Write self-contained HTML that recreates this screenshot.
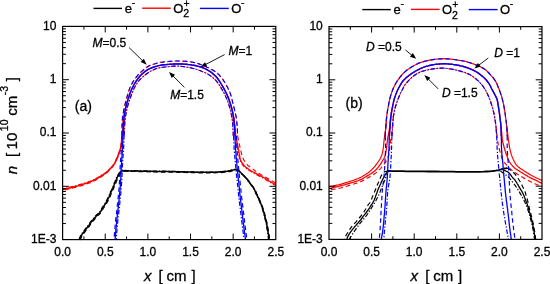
<!DOCTYPE html>
<html><head><meta charset="utf-8"><style>
html,body{margin:0;padding:0;background:#fff;}
svg{display:block;will-change:transform;}
text{font-family:"Liberation Sans",sans-serif;fill:#000;stroke:#000;stroke-width:0.3px;}
.tl{font-size:12px;}
.lg{font-size:13px;}
.sup{font-size:10.5px;}
.sub{font-size:10.5px;}
.sub2{font-size:10.5px;}
.an{font-size:12px;}
.pl{font-size:14px;}
.ax{font-size:15px;}
</style></head><body>
<svg width="550" height="284" viewBox="0 0 550 284">
<rect width="550" height="284" fill="#fff"/>
<path d="M121.9,135.0 121.9,132.5 122.0,129.9 122.0,127.3 122.1,124.8 122.1,122.3 122.3,120.0 122.5,118.2 122.7,116.5 122.9,114.9 123.2,113.2 123.5,111.6 123.8,110.0 124.1,108.3 124.5,106.7 124.9,105.0 125.3,103.4 125.7,101.7 126.2,100.0 126.7,98.1 127.2,96.2 127.8,94.2 128.3,92.3 128.9,90.4 129.6,88.6 130.2,87.1 130.9,85.7 131.5,84.4 132.2,83.1 133.0,81.8 133.8,80.5 134.6,79.3 135.5,78.1 136.4,76.9 137.3,75.8 138.3,74.7 139.4,73.6 140.7,72.3 142.0,71.1 143.4,69.8 144.9,68.6 146.4,67.5 148.0,66.5 149.7,65.6 151.5,64.9 153.3,64.2 155.2,63.7 157.1,63.1 159.0,62.7 160.8,62.3 162.7,62.1 164.6,61.8 166.5,61.7 168.3,61.5 170.0,61.4 171.3,61.3 172.5,61.2 173.7,61.1 174.9,61.1 176.1,61.0 177.3,61.0 178.6,61.0 179.8,61.0 181.1,61.1 182.4,61.1 183.7,61.2 185.0,61.3 186.5,61.4 188.1,61.6 189.8,61.8 191.4,62.0 193.0,62.3 194.5,62.6 195.8,62.9 197.0,63.2 198.2,63.6 199.3,63.9 200.5,64.4 201.7,64.8 203.0,65.3 204.4,65.9 205.7,66.5 207.1,67.2 208.4,67.8 209.7,68.5 211.0,69.2 212.2,69.8 213.5,70.5 214.7,71.3 215.9,72.1 217.0,72.9 218.0,73.8 219.0,74.8 219.9,75.8 220.8,76.8 221.7,77.9 222.5,79.0 223.3,80.1 224.0,81.2 224.8,82.4 225.5,83.6 226.1,84.8 226.8,86.0 227.5,87.3 228.1,88.6 228.8,89.9 229.4,91.3 230.0,92.6 230.5,94.0 230.9,95.3 231.3,96.6 231.6,98.0 232.0,99.3 232.3,100.7 232.6,102.0 232.9,103.3 233.3,104.7 233.6,106.0 234.0,107.3 234.3,108.7 234.6,110.0 234.9,111.3 235.2,112.6 235.5,114.0 235.8,115.3 236.1,116.6 236.3,118.0 236.5,119.5 236.7,121.0 236.8,122.5 237.0,124.0 237.1,125.5 237.2,127.0 237.3,128.5 237.4,130.0 237.4,131.5 237.5,133.0 237.5,134.5 237.6,136.0" fill="none" stroke="#ff0000" stroke-width="1.1" stroke-dasharray="4.5,3" stroke-dashoffset="1.0" stroke-linejoin="round"/>
<path d="M124.3,135.0 124.4,132.5 124.5,129.9 124.6,127.3 124.7,124.8 124.9,122.3 125.1,120.0 125.3,118.2 125.5,116.5 125.8,114.9 126.0,113.2 126.4,111.6 126.7,110.0 127.1,108.3 127.5,106.7 128.0,105.0 128.5,103.4 129.0,101.7 129.6,100.0 130.2,98.1 130.9,96.2 131.6,94.2 132.4,92.2 133.2,90.4 134.0,88.6 134.8,87.1 135.5,85.7 136.4,84.3 137.2,83.0 138.1,81.7 139.1,80.5 140.1,79.4 141.2,78.3 142.3,77.2 143.5,76.2 144.7,75.3 146.0,74.3 147.5,73.2 149.2,72.2 150.9,71.1 152.6,70.2 154.2,69.4 155.8,68.7 156.9,68.3 157.9,68.1 158.9,67.9 159.9,67.7 160.9,67.6 162.0,67.4 163.3,67.2 164.6,67.0 166.0,66.9 167.3,66.7 168.7,66.6 170.0,66.5 171.2,66.4 172.5,66.3 173.7,66.1 174.9,66.1 176.1,66.0 177.3,66.0 178.6,66.1 179.9,66.2 181.2,66.3 182.4,66.5 183.7,66.7 185.0,66.9 186.2,67.1 187.4,67.3 188.6,67.4 189.8,67.7 191.1,67.9 192.3,68.2 193.7,68.6 195.2,69.0 196.7,69.5 198.2,70.1 199.7,70.6 201.0,71.1 202.0,71.5 203.1,71.9 204.0,72.3 205.0,72.7 205.9,73.1 206.8,73.6 207.7,74.1 208.6,74.6 209.4,75.1 210.3,75.7 211.1,76.3 211.9,76.9 212.7,77.5 213.4,78.2 214.2,78.8 214.9,79.5 215.6,80.2 216.3,81.0 217.0,81.9 217.8,82.9 218.5,83.9 219.2,84.9 219.8,85.9 220.5,87.0 221.2,88.1 221.9,89.3 222.6,90.5 223.3,91.7 223.9,92.8 224.5,94.0 225.0,95.0 225.5,96.0 225.9,97.0 226.4,97.9 226.8,98.9 227.2,100.0 227.7,101.3 228.1,102.5 228.6,103.9 229.0,105.2 229.4,106.6 229.8,108.0 230.2,109.5 230.6,110.9 230.9,112.5 231.2,114.0 231.5,115.5 231.8,117.0 232.0,118.5 232.2,120.0 232.4,121.5 232.5,123.0 232.7,124.5 232.8,126.0 232.9,127.6 233.0,129.3 233.1,131.0 233.2,132.6 233.2,134.3 233.3,136.0" fill="none" stroke="#ff0000" stroke-width="1.1" stroke-dasharray="4.5,1.8,1.3,1.8" stroke-dashoffset="1.0" stroke-linejoin="round"/>
<path d="M123.0,135.0 123.1,132.5 123.2,129.9 123.3,127.3 123.4,124.8 123.5,122.3 123.7,120.0 123.9,118.2 124.1,116.5 124.3,114.9 124.6,113.2 124.9,111.6 125.2,110.0 125.6,108.3 125.9,106.7 126.4,105.0 126.8,103.4 127.3,101.7 127.8,100.0 128.4,98.2 129.0,96.3 129.6,94.4 130.3,92.5 131.0,90.7 131.8,89.0 132.5,87.5 133.3,86.0 134.1,84.5 134.9,83.1 135.7,81.8 136.6,80.5 137.4,79.4 138.2,78.3 139.0,77.3 139.8,76.3 140.7,75.3 141.6,74.4 142.6,73.5 143.7,72.6 144.7,71.7 145.9,70.9 147.0,70.1 148.2,69.4 149.4,68.8 150.7,68.2 152.0,67.7 153.3,67.2 154.6,66.8 155.8,66.4 156.9,66.1 157.9,65.8 158.9,65.6 159.9,65.4 160.9,65.2 162.0,65.0 163.3,64.8 164.6,64.7 165.9,64.6 167.3,64.5 168.7,64.4 170.0,64.3 171.3,64.2 172.5,64.1 173.8,64.0 175.0,64.0 176.3,63.9 177.5,63.9 178.7,63.9 180.0,63.9 181.2,64.0 182.5,64.0 183.7,64.1 185.0,64.2 186.4,64.3 187.9,64.5 189.4,64.6 190.8,64.8 192.3,65.1 193.7,65.3 195.0,65.5 196.2,65.8 197.4,66.1 198.6,66.4 199.8,66.7 201.0,67.1 202.1,67.5 203.2,67.9 204.3,68.4 205.4,68.9 206.4,69.4 207.5,70.0 208.6,70.7 209.8,71.4 211.0,72.2 212.1,73.0 213.1,73.9 214.1,74.7 214.8,75.4 215.5,76.1 216.2,76.8 216.8,77.5 217.4,78.2 218.0,79.0 218.6,79.9 219.2,80.7 219.8,81.7 220.4,82.6 220.9,83.5 221.5,84.5 222.1,85.5 222.8,86.6 223.4,87.7 224.0,88.7 224.6,89.9 225.2,91.0 225.8,92.3 226.5,93.6 227.1,94.9 227.7,96.2 228.3,97.6 228.8,99.0 229.3,100.5 229.8,101.9 230.3,103.4 230.8,105.0 231.2,106.5 231.6,108.0 232.0,109.5 232.3,111.0 232.7,112.5 233.0,114.0 233.2,115.5 233.5,117.0 233.7,118.5 234.0,120.0 234.1,121.5 234.3,123.0 234.5,124.5 234.6,126.0 234.7,127.6 234.8,129.3 234.8,131.0 234.9,132.6 234.9,134.3 235.0,136.0" fill="none" stroke="#ff0000" stroke-width="1.4" stroke-linejoin="round"/>
<path d="M123.7,120.0 123.6,121.3 123.5,122.7 123.4,124.0 123.3,125.4 123.2,126.7 123.1,128.0 123.0,129.2 122.8,130.4 122.7,131.6 122.6,132.7 122.4,133.9 122.3,135.0 122.2,136.0 122.1,137.0 121.9,138.0 121.8,139.0 121.7,140.0 121.6,141.0 121.5,142.0 121.4,143.0 121.3,144.1 121.2,145.1 121.1,146.1 120.9,147.0 120.7,147.8 120.5,148.5 120.3,149.2 120.1,149.9 119.8,150.6 119.6,151.2 119.4,151.7 119.2,152.2 119.0,152.7 118.9,153.2 118.7,153.7 118.5,154.2 118.3,154.7 118.2,155.1 118.0,155.6 117.9,156.1 117.7,156.5 117.5,157.0 117.3,157.5 117.1,157.9 116.9,158.4 116.6,158.9 116.4,159.3 116.2,159.8 116.0,160.3 115.8,160.9 115.6,161.4 115.3,161.9 115.1,162.5 114.8,163.0 114.4,163.6 114.0,164.2 113.6,164.7 113.2,165.3 112.7,165.9 112.3,166.4 111.9,166.9 111.5,167.3 111.1,167.8 110.7,168.2 110.3,168.6 109.8,169.1 109.2,169.7 108.6,170.3 108.0,171.0 107.3,171.6 106.7,172.2 106.0,172.8 105.4,173.3 104.8,173.7 104.2,174.0 103.6,174.4 103.0,174.8 102.3,175.2 101.5,175.7 100.7,176.2 99.8,176.8 99.0,177.3 98.1,177.9 97.2,178.4 96.2,178.9 95.2,179.5 94.2,180.0 93.2,180.5 92.2,180.9 91.1,181.4 89.9,181.9 88.7,182.3 87.5,182.8 86.3,183.2 85.0,183.6 83.8,184.0 82.6,184.4 81.4,184.8 80.2,185.1 78.9,185.5 77.7,185.9 76.5,186.2 75.3,186.5 74.1,186.8 72.9,187.1 71.7,187.4 70.5,187.7 69.3,188.0 68.2,188.3 67.1,188.5 65.9,188.8 64.8,189.0 63.7,189.3 62.6,189.5" fill="none" stroke="#ff0000" stroke-width="1.5" stroke-linejoin="round"/>
<path d="M123.4,120.9 123.3,122.2 123.2,123.6 123.1,124.9 123.0,126.3 122.9,127.6 122.8,128.9 122.7,130.1 122.5,131.3 122.4,132.5 122.3,133.6 122.1,134.8 122.0,135.9 121.9,136.9 121.8,137.9 121.6,138.9 121.5,139.9 121.4,140.9 121.3,141.9 121.2,142.9 121.1,143.9 121.0,145.0 120.9,146.0 120.8,147.0 120.6,147.9 120.4,148.7 120.2,149.4 120.0,150.1 119.8,150.8 119.5,151.5 119.3,152.1 119.1,152.6 118.9,153.1 118.7,153.6 118.6,154.1 118.4,154.6 118.2,155.1 118.0,155.6 117.9,156.0 117.7,156.5 117.6,157.0 117.4,157.4 117.2,157.9 117.0,158.4 116.8,158.8 116.6,159.3 116.3,159.8 116.1,160.2 115.9,160.7 115.7,161.2 115.5,161.8 115.3,162.3 115.0,162.8 114.8,163.4 114.5,163.9 114.1,164.5 113.7,165.1 113.3,165.6 112.9,166.2 112.4,166.8 112.0,167.3 111.6,167.8 111.2,168.2 110.8,168.7 110.4,169.1 110.0,169.5 109.5,170.0 108.9,170.6 108.3,171.2 107.7,171.9 107.0,172.5 106.4,173.1 105.7,173.7 105.1,174.2 104.5,174.6 103.9,174.9 103.3,175.3 102.7,175.7 102.0,176.1 101.2,176.6 100.4,177.1 99.5,177.7 98.7,178.2 97.8,178.8 96.9,179.3 95.9,179.8 94.9,180.4 93.9,180.9 92.9,181.4 91.9,181.8 90.8,182.3 89.6,182.8 88.4,183.2 87.2,183.7 86.0,184.1 84.7,184.5 83.5,184.9 82.3,185.3 81.1,185.7 79.9,186.0 78.6,186.4 77.4,186.8 76.2,187.1 75.0,187.4 73.8,187.7 72.6,188.0 71.4,188.3 70.2,188.6 69.0,188.9 67.9,189.2 66.8,189.4 65.6,189.7 64.5,189.9 63.4,190.2 62.3,190.4" fill="none" stroke="#ff0000" stroke-width="1.3" stroke-dasharray="4.5,3" stroke-dashoffset="0" stroke-linejoin="round"/>
<path d="M124.3,119.2 124.2,120.5 124.1,121.9 124.0,123.2 123.9,124.6 123.8,125.9 123.7,127.2 123.6,128.4 123.4,129.6 123.3,130.8 123.2,131.9 123.0,133.1 122.9,134.2 122.8,135.2 122.7,136.2 122.5,137.2 122.4,138.2 122.3,139.2 122.2,140.2 122.1,141.2 122.0,142.2 121.9,143.3 121.8,144.3 121.7,145.3 121.5,146.2 121.3,147.0 121.1,147.7 120.9,148.4 120.7,149.1 120.4,149.8 120.2,150.4 120.0,150.9 119.8,151.4 119.6,151.9 119.5,152.4 119.3,152.9 119.1,153.4 118.9,153.9 118.8,154.3 118.6,154.8 118.5,155.3 118.3,155.7 118.1,156.2 117.9,156.7 117.7,157.1 117.5,157.6 117.2,158.1 117.0,158.5 116.8,159.0 116.6,159.5 116.4,160.1 116.2,160.6 115.9,161.1 115.7,161.7 115.4,162.2 115.0,162.8 114.6,163.4 114.2,163.9 113.8,164.5 113.3,165.1 112.9,165.6 112.5,166.1 112.1,166.5 111.7,167.0 111.3,167.4 110.9,167.8 110.4,168.3 109.8,168.9 109.2,169.5 108.6,170.2 107.9,170.8 107.3,171.4 106.6,172.0 106.0,172.5 105.4,172.9 104.8,173.2 104.2,173.6 103.6,174.0 102.9,174.4 102.1,174.9 101.3,175.4 100.4,176.0 99.6,176.5 98.7,177.1 97.8,177.6 96.8,178.1 95.8,178.7 94.8,179.2 93.8,179.7 92.8,180.1 91.7,180.6 90.5,181.1 89.3,181.5 88.1,182.0 86.9,182.4 85.6,182.8 84.4,183.2 83.2,183.6 82.0,184.0 80.8,184.3 79.5,184.7 78.3,185.1 77.1,185.4 75.9,185.7 74.7,186.0 73.5,186.3 72.3,186.6 71.1,186.9 69.9,187.2 68.8,187.5 67.7,187.7 66.5,188.0 65.4,188.2 64.3,188.5 63.2,188.7" fill="none" stroke="#ff0000" stroke-width="1.3" stroke-dasharray="4.5,1.8,1.3,1.8" stroke-dashoffset="0" stroke-linejoin="round"/>
<path d="M233.5,117.0 233.7,118.5 233.9,120.0 234.1,121.5 234.2,123.0 234.4,124.5 234.6,126.0 234.8,127.4 234.9,128.7 235.1,130.1 235.2,131.4 235.4,132.7 235.6,134.0 235.8,135.2 236.0,136.4 236.2,137.6 236.4,138.7 236.6,139.9 236.8,141.0 237.0,142.0 237.2,143.1 237.4,144.1 237.6,145.1 237.8,146.0 238.0,147.0 238.2,147.9 238.3,148.7 238.5,149.6 238.7,150.4 238.8,151.2 239.0,152.0 239.1,152.7 239.2,153.4 239.4,154.0 239.5,154.7 239.6,155.3 239.7,156.0 239.8,156.6 239.9,157.3 240.0,157.9 240.1,158.6 240.2,159.2 240.4,159.8 240.6,160.4 240.9,160.9 241.2,161.4 241.5,161.9 241.8,162.5 242.2,163.0 242.7,163.6 243.1,164.3 243.7,164.9 244.2,165.6 244.8,166.2 245.4,166.8 246.1,167.4 246.8,167.9 247.5,168.5 248.3,169.0 249.0,169.5 249.8,170.0 250.6,170.5 251.5,171.0 252.3,171.5 253.2,172.0 254.1,172.4 254.9,172.9 255.7,173.3 256.5,173.7 257.2,174.2 258.0,174.6 258.8,175.0 259.6,175.4 260.5,175.9 261.4,176.3 262.3,176.8 263.3,177.3 264.2,177.8 265.1,178.3 265.9,178.8 266.8,179.3 267.6,179.9 268.4,180.4 269.2,181.0 270.1,181.5 271.0,182.0 272.0,182.6 272.9,183.1 273.9,183.6 274.8,184.2 275.8,184.7" fill="none" stroke="#ff0000" stroke-width="1.3" stroke-linejoin="round"/>
<path d="M237.6,136.0 237.8,136.8 237.9,137.7 238.1,138.5 238.3,139.3 238.4,140.1 238.6,141.0 238.8,142.0 239.0,143.0 239.2,144.0 239.5,145.0 239.7,146.0 239.9,147.0 240.1,147.9 240.3,148.7 240.5,149.6 240.7,150.4 240.9,151.2 241.1,152.0 241.3,152.7 241.5,153.4 241.6,154.1 241.8,154.7 242.0,155.4 242.2,156.0 242.4,156.6 242.6,157.1 242.8,157.6 243.0,158.1 243.2,158.6 243.5,159.2 243.9,160.0 244.4,160.9 245.0,161.8 245.5,162.6 246.1,163.5 246.7,164.2 247.2,164.7 247.7,165.2 248.2,165.6 248.7,166.0 249.2,166.4 249.8,166.8 250.6,167.4 251.5,168.1 252.4,168.7 253.3,169.4 254.1,170.0 254.9,170.6 255.4,171.0 255.8,171.3 256.2,171.6 256.5,171.9 256.9,172.2 257.4,172.5 258.1,172.9 258.8,173.4 259.6,173.8 260.4,174.3 261.2,174.7 262.0,175.2 262.9,175.7 263.9,176.3 264.9,176.9 265.9,177.4 266.9,178.0 268.0,178.6 269.2,179.3 270.5,180.0 271.8,180.8 273.2,181.5 274.5,182.3 275.8,183.0" fill="none" stroke="#ff0000" stroke-width="1.2" stroke-dasharray="4.5,3" stroke-dashoffset="0" stroke-linejoin="round"/>
<path d="M233.0,117.6 233.2,119.1 233.4,120.6 233.6,122.1 233.7,123.6 233.9,125.1 234.1,126.6 234.3,128.0 234.4,129.3 234.6,130.7 234.7,132.0 234.9,133.3 235.1,134.6 235.3,135.8 235.5,137.0 235.7,138.2 235.9,139.3 236.1,140.5 236.3,141.6 236.5,142.6 236.7,143.7 236.9,144.7 237.1,145.7 237.3,146.6 237.5,147.6 237.7,148.5 237.8,149.3 238.0,150.2 238.2,151.0 238.3,151.8 238.5,152.6 238.6,153.3 238.7,154.0 238.9,154.6 239.0,155.3 239.1,155.9 239.2,156.6 239.3,157.2 239.4,157.9 239.5,158.5 239.6,159.2 239.7,159.8 239.9,160.4 240.1,161.0 240.4,161.5 240.7,162.0 241.0,162.5 241.3,163.1 241.7,163.6 242.2,164.2 242.6,164.9 243.2,165.5 243.7,166.2 244.3,166.8 244.9,167.4 245.6,168.0 246.3,168.5 247.0,169.1 247.8,169.6 248.5,170.1 249.3,170.6 250.1,171.1 251.0,171.6 251.8,172.1 252.7,172.6 253.6,173.0 254.4,173.5 255.2,173.9 256.0,174.3 256.7,174.8 257.5,175.2 258.3,175.6 259.1,176.0 260.0,176.5 260.9,176.9 261.8,177.4 262.8,177.9 263.7,178.4 264.6,178.9 265.4,179.4 266.3,179.9 267.1,180.5 267.9,181.0 268.7,181.6 269.6,182.1 270.5,182.6 271.5,183.2 272.4,183.7 273.4,184.2 274.3,184.8 275.3,185.3" fill="none" stroke="#ff0000" stroke-width="1.2" stroke-dasharray="4.5,1.8,1.3,1.8" stroke-dashoffset="0" stroke-linejoin="round"/>
<path d="M79.6,239.6 79.6,239.5 79.7,239.3 79.7,239.2 79.8,239.1 79.8,239.0 79.9,238.8 80.0,238.5 80.2,238.1 80.3,237.6 80.5,237.2 80.7,236.7 80.9,236.3 81.1,235.9 81.4,235.5 81.6,235.1 81.9,234.7 82.1,234.3 82.4,233.9 82.7,233.5 83.0,233.1 83.3,232.7 83.7,232.2 84.0,231.8 84.3,231.4 84.6,230.9 85.0,230.4 85.3,229.9 85.6,229.5 86.0,229.0 86.3,228.5 86.7,228.1 87.0,227.7 87.4,227.2 87.8,226.8 88.2,226.4 88.5,226.0 88.8,225.6 89.1,225.1 89.3,224.7 89.6,224.2 89.9,223.8 90.2,223.3 90.7,222.7 91.2,222.0 91.8,221.3 92.3,220.6 92.9,220.0 93.5,219.3 94.1,218.6 94.6,218.0 95.2,217.3 95.8,216.7 96.3,216.0 96.9,215.4 97.5,214.8 98.1,214.3 98.7,213.7 99.2,213.2 99.8,212.6 100.3,212.0 100.8,211.3 101.2,210.6 101.6,209.9 101.9,209.2 102.3,208.5 102.7,207.8 103.0,207.3 103.4,206.8 103.7,206.3 104.0,205.9 104.4,205.4 104.7,204.9 105.0,204.4 105.4,203.8 105.7,203.3 106.0,202.8 106.3,202.2 106.6,201.7 106.9,201.2 107.2,200.7 107.4,200.1 107.7,199.6 107.9,199.1 108.2,198.6 108.4,198.2 108.7,197.7 108.9,197.3 109.1,196.9 109.3,196.5 109.5,196.0 109.7,195.5 109.9,194.9 110.1,194.4 110.3,193.8 110.5,193.3 110.7,192.8 110.9,192.4 111.1,191.9 111.3,191.5 111.5,191.1 111.7,190.7 111.9,190.3 112.1,189.8 112.3,189.3 112.5,188.9 112.7,188.4 112.9,187.9 113.1,187.4 113.3,187.0 113.5,186.5 113.6,186.1 113.8,185.7 114.0,185.3 114.2,184.8 114.4,184.3 114.6,183.7 114.9,183.2 115.1,182.6 115.4,182.0 115.6,181.4 115.9,180.7 116.2,179.9 116.5,179.2 116.8,178.4 117.1,177.7 117.4,177.0 117.7,176.4 118.0,175.9 118.3,175.3 118.6,174.8 119.0,174.3 119.3,173.8 119.6,173.3 120.0,172.9 120.3,172.5 120.7,172.0 121.0,171.7 121.4,171.4 121.7,171.2 121.9,171.1 122.2,171.0 122.5,170.9 122.8,170.9 123.2,170.8 124.0,170.7 125.0,170.7 126.1,170.7 127.3,170.8 128.6,170.9 130.0,170.9 132.7,170.9 135.7,171.0 139.1,171.1 142.6,171.2 146.3,171.2 150.0,171.3 154.7,171.4 159.7,171.5 164.9,171.5 170.1,171.6 175.2,171.7 180.0,171.8 183.9,171.9 187.6,172.0 191.3,172.1 194.9,172.2 198.4,172.3 201.8,172.3 204.7,172.3 207.6,172.3 210.4,172.3 213.1,172.3 215.7,172.2 218.2,172.1 220.2,172.0 222.2,171.8 224.1,171.6 225.9,171.4 227.6,171.2 229.1,171.0 230.0,170.8 230.8,170.7 231.5,170.5 232.2,170.3 232.9,170.1 233.5,170.0 234.0,169.9 234.4,169.8 234.8,169.7 235.2,169.6 235.6,169.6 236.0,169.6 236.4,169.6 236.7,169.7 237.0,169.8 237.4,169.9 237.7,170.0 238.1,170.2 238.7,170.7 239.4,171.3 240.1,172.0 240.9,172.8 241.6,173.6 242.3,174.3 243.0,175.0 243.8,175.7 244.5,176.4 245.2,177.1 245.9,177.9 246.6,178.6 247.2,179.3 247.7,180.0 248.2,180.7 248.7,181.4 249.2,182.1 249.7,182.8 250.2,183.5 250.8,184.2 251.3,184.9 251.9,185.6 252.4,186.3 252.9,187.0 253.3,187.7 253.7,188.3 254.1,189.0 254.5,189.7 254.9,190.3 255.2,191.0 255.5,191.6 255.7,192.1 255.9,192.6 256.1,193.2 256.3,193.7 256.6,194.3 257.0,195.1 257.3,195.9 257.8,196.7 258.2,197.5 258.6,198.4 259.0,199.3 259.4,200.3 259.9,201.3 260.3,202.4 260.8,203.5 261.2,204.5 261.6,205.6 262.0,206.7 262.4,207.7 262.7,208.8 263.1,209.9 263.4,210.9 263.7,212.0 264.0,213.1 264.3,214.1 264.5,215.2 264.8,216.3 265.1,217.3 265.3,218.3 265.5,219.1 265.7,219.9 265.9,220.7 266.1,221.4 266.3,222.2 266.5,223.0 266.7,224.0 266.9,224.9 267.0,226.0 267.2,227.0 267.3,228.0 267.5,229.0 267.7,230.0 267.9,231.0 268.0,232.0 268.2,233.1 268.4,234.0 268.5,235.0 268.6,235.8 268.7,236.6 268.7,237.3 268.8,238.1 268.8,238.8 268.9,239.6" fill="none" stroke="#000" stroke-width="1.5" stroke-linejoin="round"/>
<path d="M80.2,240.1 80.2,240.0 80.3,239.8 80.3,239.7 80.4,239.6 80.4,239.5 80.5,239.3 80.6,239.0 80.8,238.6 80.9,238.1 81.1,237.7 81.3,237.2 81.5,236.8 81.7,236.4 82.0,236.0 82.2,235.6 82.5,235.2 82.7,234.8 83.0,234.4 83.3,234.0 83.6,233.6 83.9,233.2 84.3,232.7 84.6,232.3 84.9,231.9 85.2,231.4 85.6,230.9 85.9,230.4 86.2,230.0 86.6,229.5 86.9,229.0 87.3,228.6 87.6,228.2 88.0,227.7 88.4,227.3 88.8,226.9 89.1,226.5 89.4,226.1 89.7,225.6 89.9,225.2 90.2,224.7 90.5,224.3 90.8,223.8 91.3,223.2 91.8,222.5 92.4,221.8 92.9,221.1 93.5,220.5 94.1,219.8 94.7,219.1 95.2,218.5 95.8,217.8 96.4,217.2 96.9,216.5 97.5,215.9 98.1,215.3 98.7,214.8 99.3,214.2 99.8,213.7 100.4,213.1 100.9,212.5 101.4,211.8 101.8,211.1 102.2,210.4 102.5,209.7 102.9,209.0 103.3,208.3 103.6,207.8 104.0,207.3 104.3,206.8 104.6,206.4 105.0,205.9 105.3,205.4 105.6,204.9 106.0,204.3 106.3,203.8 106.6,203.3 106.9,202.7 107.2,202.2 107.5,201.7 107.8,201.2 108.0,200.6 108.3,200.1 108.5,199.6 108.8,199.1 109.0,198.7 109.3,198.2 109.5,197.8 109.7,197.4 109.9,197.0 110.1,196.5 110.3,196.0 110.5,195.4 110.7,194.9 110.9,194.3 111.1,193.8 111.3,193.3 111.5,192.9 111.7,192.4 111.9,192.0 112.1,191.6 112.3,191.2 112.5,190.8 112.7,190.3 112.9,189.8 113.1,189.4 113.3,188.9 113.5,188.4 113.7,187.9 113.9,187.5 114.1,187.0 114.2,186.6 114.4,186.2 114.6,185.8 114.8,185.3 115.0,184.8 115.2,184.2 115.5,183.7 115.7,183.1 116.0,182.5 116.2,181.9 116.5,181.2 116.8,180.4 117.1,179.7 117.4,178.9 117.7,178.2 118.0,177.5 118.3,176.9 118.6,176.4 118.9,175.8 119.2,175.3 119.6,174.8 119.9,174.3 120.2,173.8 120.6,173.4 120.9,173.0 121.3,172.5 121.6,172.2 122.0,171.9 122.3,171.7 122.5,171.6 122.8,171.5 123.1,171.4 123.4,171.4 123.8,171.3 124.6,171.2 125.6,171.2 126.7,171.2 127.9,171.3 129.2,171.4 130.6,171.4 133.3,171.4 136.3,171.5 139.7,171.6 143.2,171.7 146.9,171.7 150.6,171.8 155.3,171.9 160.3,172.0 165.5,172.0 170.7,172.1 175.8,172.2 180.6,172.3 184.5,172.4 188.2,172.5 191.9,172.6 195.5,172.7 199.0,172.8 202.4,172.8 205.3,172.8 208.2,172.8 211.0,172.8 213.7,172.8 216.3,172.7 218.8,172.6 220.8,172.5 222.8,172.3 224.7,172.1 226.5,171.9 228.2,171.7 229.7,171.5 230.6,171.3 231.4,171.2 232.1,171.0 232.8,170.8 233.5,170.6 234.1,170.5 234.6,170.4 235.0,170.3 235.4,170.2 235.8,170.1 236.2,170.1 236.6,170.1 237.0,170.1 237.3,170.2 237.6,170.3 238.0,170.4 238.3,170.5 238.7,170.7 239.3,171.2 240.0,171.8 240.7,172.5 241.5,173.3 242.2,174.1 242.9,174.8 243.6,175.5 244.4,176.2 245.1,176.9 245.8,177.6 246.5,178.4 247.2,179.1 247.8,179.8 248.3,180.5 248.8,181.2 249.3,181.9 249.8,182.6 250.3,183.3 250.8,184.0 251.4,184.7 251.9,185.4 252.5,186.1 253.0,186.8 253.5,187.5 253.9,188.2 254.3,188.8 254.7,189.5 255.1,190.2 255.5,190.8 255.8,191.5 256.1,192.1 256.3,192.6 256.5,193.1 256.7,193.7 256.9,194.2 257.2,194.8 257.6,195.6 257.9,196.4 258.4,197.2 258.8,198.0 259.2,198.9 259.6,199.8 260.0,200.8 260.5,201.8 260.9,202.9 261.4,204.0 261.8,205.0 262.2,206.1 262.6,207.2 263.0,208.2 263.3,209.3 263.7,210.4 264.0,211.4 264.3,212.5 264.6,213.6 264.9,214.6 265.1,215.7 265.4,216.8 265.7,217.8 265.9,218.8 266.1,219.6 266.3,220.4 266.5,221.2 266.7,221.9 266.9,222.7 267.1,223.5 267.3,224.5 267.5,225.4 267.6,226.5 267.8,227.5 267.9,228.5 268.1,229.5 268.3,230.5 268.5,231.5 268.6,232.5 268.8,233.6 269.0,234.5 269.1,235.5 269.2,236.3 269.3,237.1 269.3,237.8 269.4,238.6 269.4,239.3 269.5,240.1" fill="none" stroke="#000" stroke-width="1.3" stroke-dasharray="4.5,3" stroke-dashoffset="0" stroke-linejoin="round"/>
<path d="M79.1,239.3 79.1,239.2 79.2,239.0 79.2,238.9 79.3,238.8 79.3,238.7 79.4,238.5 79.5,238.2 79.7,237.8 79.8,237.3 80.0,236.9 80.2,236.4 80.4,236.0 80.6,235.6 80.9,235.2 81.1,234.8 81.4,234.4 81.6,234.0 81.9,233.6 82.2,233.2 82.5,232.8 82.8,232.4 83.2,231.9 83.5,231.5 83.8,231.1 84.1,230.6 84.5,230.1 84.8,229.6 85.1,229.2 85.5,228.7 85.8,228.2 86.2,227.8 86.5,227.4 86.9,226.9 87.3,226.5 87.7,226.1 88.0,225.7 88.3,225.3 88.6,224.8 88.8,224.4 89.1,223.9 89.4,223.5 89.7,223.0 90.2,222.4 90.7,221.7 91.3,221.0 91.8,220.3 92.4,219.7 93.0,219.0 93.6,218.3 94.1,217.7 94.7,217.0 95.3,216.4 95.8,215.7 96.4,215.1 97.0,214.5 97.6,214.0 98.2,213.4 98.7,212.9 99.3,212.3 99.8,211.7 100.3,211.0 100.7,210.3 101.1,209.6 101.4,208.9 101.8,208.2 102.2,207.5 102.5,207.0 102.9,206.5 103.2,206.0 103.5,205.6 103.9,205.1 104.2,204.6 104.5,204.1 104.9,203.5 105.2,203.0 105.5,202.5 105.8,201.9 106.1,201.4 106.4,200.9 106.7,200.4 106.9,199.8 107.2,199.3 107.4,198.8 107.7,198.3 107.9,197.9 108.2,197.4 108.4,197.0 108.6,196.6 108.8,196.2 109.0,195.7 109.2,195.2 109.4,194.6 109.6,194.1 109.8,193.5 110.0,193.0 110.2,192.5 110.4,192.1 110.6,191.6 110.8,191.2 111.0,190.8 111.2,190.4 111.4,190.0 111.6,189.5 111.8,189.0 112.0,188.6 112.2,188.1 112.4,187.6 112.6,187.1 112.8,186.7 113.0,186.2 113.1,185.8 113.3,185.4 113.5,185.0 113.7,184.5 113.9,184.0 114.1,183.4 114.4,182.9 114.6,182.3 114.9,181.7 115.1,181.1 115.4,180.4 115.7,179.6 116.0,178.9 116.3,178.1 116.6,177.4 116.9,176.7 117.2,176.1 117.5,175.6 117.8,175.0 118.1,174.5 118.5,174.0 118.8,173.5 119.1,173.0 119.5,172.6 119.8,172.2 120.2,171.7 120.5,171.4 120.9,171.1 121.2,170.9 121.4,170.8 121.7,170.7 122.0,170.6 122.3,170.6 122.7,170.5 123.5,170.4 124.5,170.4 125.6,170.4 126.8,170.5 128.1,170.6 129.5,170.6 132.2,170.6 135.2,170.7 138.6,170.8 142.1,170.9 145.8,170.9 149.5,171.0 154.2,171.1 159.2,171.2 164.4,171.2 169.6,171.3 174.7,171.4 179.5,171.5 183.4,171.6 187.1,171.7 190.8,171.8 194.4,171.9 197.9,172.0 201.3,172.0 204.2,172.0 207.1,172.0 209.9,172.0 212.6,172.0 215.2,171.9 217.7,171.8 219.7,171.7 221.7,171.5 223.6,171.3 225.4,171.1 227.1,170.9 228.6,170.7 229.5,170.5 230.3,170.4 231.0,170.2 231.7,170.0 232.4,169.8 233.0,169.7 233.5,169.6 233.9,169.5 234.3,169.4 234.7,169.3 235.1,169.3 235.5,169.3 235.9,169.3 236.2,169.4 236.5,169.5 236.9,169.6 237.2,169.7 237.6,169.9 238.2,170.4 238.9,171.0 239.6,171.7 240.4,172.5 241.1,173.3 241.8,174.0 242.5,174.7 243.3,175.4 244.0,176.1 244.7,176.8 245.4,177.6 246.1,178.3 246.7,179.0 247.2,179.7 247.7,180.4 248.2,181.1 248.7,181.8 249.2,182.5 249.7,183.2 250.3,183.9 250.8,184.6 251.4,185.3 251.9,186.0 252.4,186.7 252.8,187.4 253.2,188.0 253.6,188.7 254.0,189.4 254.4,190.0 254.7,190.7 255.0,191.3 255.2,191.8 255.4,192.3 255.6,192.9 255.8,193.4 256.1,194.0 256.5,194.8 256.8,195.6 257.3,196.4 257.7,197.2 258.1,198.1 258.5,199.0 258.9,200.0 259.4,201.0 259.8,202.1 260.3,203.2 260.7,204.2 261.1,205.3 261.5,206.4 261.9,207.4 262.2,208.5 262.6,209.6 262.9,210.6 263.2,211.7 263.5,212.8 263.8,213.8 264.0,214.9 264.3,216.0 264.6,217.0 264.8,218.0 265.0,218.8 265.2,219.6 265.4,220.4 265.6,221.1 265.8,221.9 266.0,222.7 266.2,223.7 266.4,224.6 266.5,225.7 266.7,226.7 266.8,227.7 267.0,228.7 267.2,229.7 267.4,230.7 267.5,231.7 267.7,232.8 267.9,233.7 268.0,234.7 268.1,235.5 268.2,236.3 268.2,237.0 268.3,237.8 268.3,238.5 268.4,239.3" fill="none" stroke="#000" stroke-width="1.2" stroke-dasharray="4.5,1.8,1.3,1.8" stroke-dashoffset="0" stroke-linejoin="round"/>
<path d="M121.9,135.0 121.9,132.5 122.0,129.9 122.0,127.3 122.1,124.8 122.1,122.3 122.3,120.0 122.5,118.2 122.7,116.5 122.9,114.9 123.2,113.2 123.5,111.6 123.8,110.0 124.1,108.3 124.5,106.7 124.9,105.0 125.3,103.4 125.7,101.7 126.2,100.0 126.7,98.1 127.2,96.2 127.8,94.2 128.3,92.3 128.9,90.4 129.6,88.6 130.2,87.1 130.9,85.7 131.5,84.4 132.2,83.1 133.0,81.8 133.8,80.5 134.6,79.3 135.5,78.1 136.4,76.9 137.3,75.8 138.3,74.7 139.4,73.6 140.7,72.3 142.0,71.1 143.4,69.8 144.9,68.6 146.4,67.5 148.0,66.5 149.7,65.6 151.5,64.9 153.3,64.2 155.2,63.7 157.1,63.1 159.0,62.7 160.8,62.3 162.7,62.1 164.6,61.8 166.5,61.7 168.3,61.5 170.0,61.4 171.3,61.3 172.5,61.2 173.7,61.1 174.9,61.1 176.1,61.0 177.3,61.0 178.6,61.0 179.8,61.0 181.1,61.1 182.4,61.1 183.7,61.2 185.0,61.3 186.5,61.4 188.1,61.6 189.8,61.8 191.4,62.0 193.0,62.3 194.5,62.6 195.8,62.9 197.0,63.2 198.2,63.6 199.3,63.9 200.5,64.4 201.7,64.8 203.0,65.3 204.4,65.9 205.7,66.5 207.1,67.2 208.4,67.8 209.7,68.5 211.0,69.2 212.2,69.8 213.5,70.5 214.7,71.3 215.9,72.1 217.0,72.9 218.0,73.8 219.0,74.8 219.9,75.8 220.8,76.8 221.7,77.9 222.5,79.0 223.3,80.1 224.0,81.2 224.8,82.4 225.5,83.6 226.1,84.8 226.8,86.0 227.5,87.3 228.1,88.6 228.8,89.9 229.4,91.3 230.0,92.6 230.5,94.0 230.9,95.3 231.3,96.6 231.6,98.0 232.0,99.3 232.3,100.7 232.6,102.0 232.9,103.3 233.3,104.7 233.6,106.0 234.0,107.3 234.3,108.7 234.6,110.0 234.9,111.3 235.2,112.6 235.5,114.0 235.8,115.3 236.1,116.6 236.3,118.0 236.5,119.5 236.7,121.0 236.8,122.5 237.0,124.0 237.1,125.5 237.2,127.0 237.3,128.5 237.4,130.0 237.4,131.5 237.5,133.0 237.5,134.5 237.6,136.0" fill="none" stroke="#0000ff" stroke-width="1.1" stroke-dasharray="4.5,3" stroke-dashoffset="0" stroke-linejoin="round"/>
<path d="M124.3,135.0 124.4,132.5 124.5,129.9 124.6,127.3 124.7,124.8 124.9,122.3 125.1,120.0 125.3,118.2 125.5,116.5 125.8,114.9 126.0,113.2 126.4,111.6 126.7,110.0 127.1,108.3 127.5,106.7 128.0,105.0 128.5,103.4 129.0,101.7 129.6,100.0 130.2,98.1 130.9,96.2 131.6,94.2 132.4,92.2 133.2,90.4 134.0,88.6 134.8,87.1 135.5,85.7 136.4,84.3 137.2,83.0 138.1,81.7 139.1,80.5 140.1,79.4 141.2,78.3 142.3,77.2 143.5,76.2 144.7,75.3 146.0,74.3 147.5,73.2 149.2,72.2 150.9,71.1 152.6,70.2 154.2,69.4 155.8,68.7 156.9,68.3 157.9,68.1 158.9,67.9 159.9,67.7 160.9,67.6 162.0,67.4 163.3,67.2 164.6,67.0 166.0,66.9 167.3,66.7 168.7,66.6 170.0,66.5 171.2,66.4 172.5,66.3 173.7,66.1 174.9,66.1 176.1,66.0 177.3,66.0 178.6,66.1 179.9,66.2 181.2,66.3 182.4,66.5 183.7,66.7 185.0,66.9 186.2,67.1 187.4,67.3 188.6,67.4 189.8,67.7 191.1,67.9 192.3,68.2 193.7,68.6 195.2,69.0 196.7,69.5 198.2,70.1 199.7,70.6 201.0,71.1 202.0,71.5 203.1,71.9 204.0,72.3 205.0,72.7 205.9,73.1 206.8,73.6 207.7,74.1 208.6,74.6 209.4,75.1 210.3,75.7 211.1,76.3 211.9,76.9 212.7,77.5 213.4,78.2 214.2,78.8 214.9,79.5 215.6,80.2 216.3,81.0 217.0,81.9 217.8,82.9 218.5,83.9 219.2,84.9 219.8,85.9 220.5,87.0 221.2,88.1 221.9,89.3 222.6,90.5 223.3,91.7 223.9,92.8 224.5,94.0 225.0,95.0 225.5,96.0 225.9,97.0 226.4,97.9 226.8,98.9 227.2,100.0 227.7,101.3 228.1,102.5 228.6,103.9 229.0,105.2 229.4,106.6 229.8,108.0 230.2,109.5 230.6,110.9 230.9,112.5 231.2,114.0 231.5,115.5 231.8,117.0 232.0,118.5 232.2,120.0 232.4,121.5 232.5,123.0 232.7,124.5 232.8,126.0 232.9,127.6 233.0,129.3 233.1,131.0 233.2,132.6 233.2,134.3 233.3,136.0" fill="none" stroke="#0000ff" stroke-width="1.1" stroke-dasharray="4.5,1.8,1.3,1.8" stroke-dashoffset="0" stroke-linejoin="round"/>
<path d="M123.0,135.0 123.1,132.5 123.2,129.9 123.3,127.3 123.4,124.8 123.5,122.3 123.7,120.0 123.9,118.2 124.1,116.5 124.3,114.9 124.6,113.2 124.9,111.6 125.2,110.0 125.6,108.3 125.9,106.7 126.4,105.0 126.8,103.4 127.3,101.7 127.8,100.0 128.4,98.2 129.0,96.3 129.6,94.4 130.3,92.5 131.0,90.7 131.8,89.0 132.5,87.5 133.3,86.0 134.1,84.5 134.9,83.1 135.7,81.8 136.6,80.5 137.4,79.4 138.2,78.3 139.0,77.3 139.8,76.3 140.7,75.3 141.6,74.4 142.6,73.5 143.7,72.6 144.7,71.7 145.9,70.9 147.0,70.1 148.2,69.4 149.4,68.8 150.7,68.2 152.0,67.7 153.3,67.2 154.6,66.8 155.8,66.4 156.9,66.1 157.9,65.8 158.9,65.6 159.9,65.4 160.9,65.2 162.0,65.0 163.3,64.8 164.6,64.7 165.9,64.6 167.3,64.5 168.7,64.4 170.0,64.3 171.3,64.2 172.5,64.1 173.8,64.0 175.0,64.0 176.3,63.9 177.5,63.9 178.7,63.9 180.0,63.9 181.2,64.0 182.5,64.0 183.7,64.1 185.0,64.2 186.4,64.3 187.9,64.5 189.4,64.6 190.8,64.8 192.3,65.1 193.7,65.3 195.0,65.5 196.2,65.8 197.4,66.1 198.6,66.4 199.8,66.7 201.0,67.1 202.1,67.5 203.2,67.9 204.3,68.4 205.4,68.9 206.4,69.4 207.5,70.0 208.6,70.7 209.8,71.4 211.0,72.2 212.1,73.0 213.1,73.9 214.1,74.7 214.8,75.4 215.5,76.1 216.2,76.8 216.8,77.5 217.4,78.2 218.0,79.0 218.6,79.9 219.2,80.7 219.8,81.7 220.4,82.6 220.9,83.5 221.5,84.5 222.1,85.5 222.8,86.6 223.4,87.7 224.0,88.7 224.6,89.9 225.2,91.0 225.8,92.3 226.5,93.6 227.1,94.9 227.7,96.2 228.3,97.6 228.8,99.0 229.3,100.5 229.8,101.9 230.3,103.4 230.8,105.0 231.2,106.5 231.6,108.0 232.0,109.5 232.3,111.0 232.7,112.5 233.0,114.0 233.2,115.5 233.5,117.0 233.7,118.5 234.0,120.0 234.1,121.5 234.3,123.0 234.5,124.5 234.6,126.0 234.7,127.6 234.8,129.3 234.8,131.0 234.9,132.6 234.9,134.3 235.0,136.0" fill="none" stroke="#0000ff" stroke-width="1.45" stroke-linejoin="round"/>
<path d="M123.0,135.0 123.0,136.2 122.9,137.3 122.9,138.5 122.9,139.6 122.8,140.8 122.8,142.0 122.7,143.3 122.7,144.7 122.6,146.0 122.5,147.4 122.5,148.7 122.4,150.0 122.3,151.1 122.3,152.1 122.2,153.1 122.1,154.1 122.1,155.1 122.0,156.0 121.9,156.7 121.9,157.4 121.8,158.0 121.8,158.6 121.8,159.3 121.7,160.0 121.6,160.9 121.6,161.9 121.5,163.0 121.4,164.0 121.4,165.0 121.3,166.0 121.3,166.8 121.2,167.6 121.2,168.4 121.2,169.2 121.1,170.1 121.1,171.0 121.0,172.3 121.0,173.8 120.9,175.3 120.9,176.9 120.8,178.5 120.7,180.0 120.6,181.5 120.5,183.0 120.4,184.5 120.3,186.0 120.2,187.5 120.1,189.0 120.0,190.5 119.8,192.0 119.7,193.5 119.5,195.0 119.4,196.5 119.2,198.0 119.1,199.4 118.9,200.7 118.8,202.0 118.7,203.4 118.5,204.7 118.4,206.0 118.3,207.3 118.1,208.7 118.0,210.0 117.8,211.3 117.7,212.7 117.5,214.0 117.3,215.3 117.2,216.6 117.0,218.0 116.9,219.3 116.7,220.6 116.6,222.0 116.5,223.5 116.3,225.0 116.2,226.5 116.1,228.0 115.9,229.5 115.8,231.0 115.7,232.4 115.6,233.9 115.4,235.3 115.3,236.7 115.2,238.2 115.1,239.6" fill="none" stroke="#0000ff" stroke-width="1.3" stroke-linejoin="round"/>
<path d="M121.9,135.0 121.9,136.2 121.8,137.3 121.8,138.5 121.8,139.6 121.7,140.8 121.7,142.0 121.6,143.3 121.6,144.7 121.5,146.0 121.4,147.4 121.4,148.7 121.3,150.0 121.2,151.1 121.2,152.1 121.1,153.1 121.0,154.1 121.0,155.1 120.9,156.0 120.8,156.7 120.8,157.4 120.8,158.0 120.7,158.6 120.7,159.3 120.6,160.0 120.5,160.9 120.5,161.9 120.4,163.0 120.3,164.0 120.3,165.0 120.2,166.0 120.2,166.8 120.1,167.6 120.1,168.4 120.1,169.2 120.0,170.1 120.0,171.0 119.9,172.3 119.9,173.8 119.8,175.3 119.8,176.9 119.7,178.5 119.6,180.0 119.5,181.5 119.4,183.0 119.3,184.5 119.2,186.0 119.1,187.5 119.0,189.0 118.9,190.5 118.7,192.0 118.6,193.5 118.4,195.0 118.3,196.5 118.1,198.0 118.0,199.4 117.8,200.7 117.7,202.0 117.6,203.4 117.4,204.7 117.3,206.0 117.2,207.3 117.0,208.7 116.9,210.0 116.7,211.3 116.6,212.7 116.4,214.0 116.2,215.3 116.1,216.6 115.9,218.0 115.8,219.3 115.6,220.6 115.5,222.0 115.4,223.5 115.2,225.0 115.1,226.5 115.0,228.0 114.8,229.5 114.7,231.0 114.6,232.4 114.5,233.9 114.3,235.3 114.2,236.7 114.1,238.2 114.0,239.6" fill="none" stroke="#0000ff" stroke-width="1.2" stroke-dasharray="4.5,3" stroke-dashoffset="0" stroke-linejoin="round"/>
<path d="M124.1,135.0 124.1,136.2 124.0,137.3 124.0,138.5 124.0,139.6 123.9,140.8 123.9,142.0 123.8,143.3 123.8,144.7 123.7,146.0 123.6,147.4 123.6,148.7 123.5,150.0 123.4,151.1 123.4,152.1 123.3,153.1 123.2,154.1 123.2,155.1 123.1,156.0 123.0,156.7 123.0,157.4 122.9,158.0 122.9,158.6 122.9,159.3 122.8,160.0 122.7,160.9 122.7,161.9 122.6,163.0 122.5,164.0 122.5,165.0 122.4,166.0 122.4,166.8 122.3,167.6 122.3,168.4 122.3,169.2 122.2,170.1 122.2,171.0 122.1,172.3 122.1,173.8 122.0,175.3 122.0,176.9 121.9,178.5 121.8,180.0 121.7,181.5 121.6,183.0 121.5,184.5 121.4,186.0 121.3,187.5 121.2,189.0 121.1,190.5 120.9,192.0 120.8,193.5 120.6,195.0 120.5,196.5 120.3,198.0 120.2,199.4 120.0,200.7 119.9,202.0 119.8,203.4 119.6,204.7 119.5,206.0 119.4,207.3 119.2,208.7 119.1,210.0 118.9,211.3 118.8,212.7 118.6,214.0 118.4,215.3 118.3,216.6 118.1,218.0 118.0,219.3 117.8,220.6 117.7,222.0 117.6,223.5 117.4,225.0 117.3,226.5 117.2,228.0 117.0,229.5 116.9,231.0 116.8,232.4 116.7,233.9 116.5,235.3 116.4,236.7 116.3,238.2 116.2,239.6" fill="none" stroke="#0000ff" stroke-width="1.2" stroke-dasharray="4.5,1.8,1.3,1.8" stroke-dashoffset="0" stroke-linejoin="round"/>
<path d="M235.0,136.0 235.1,138.0 235.1,140.0 235.2,142.0 235.3,144.0 235.4,146.0 235.5,148.0 235.6,150.0 235.8,152.0 236.0,154.0 236.1,156.0 236.3,158.0 236.5,160.0 236.7,162.0 236.9,164.0 237.0,166.0 237.2,168.0 237.4,170.0 237.6,172.0 237.8,174.0 238.0,176.0 238.2,178.0 238.5,180.0 238.7,182.0 238.9,184.0 239.1,185.9 239.3,187.8 239.5,189.6 239.6,191.5 239.8,193.3 240.0,195.0 240.2,196.5 240.3,197.9 240.5,199.3 240.7,200.6 240.8,202.0 241.0,203.4 241.2,204.8 241.3,206.2 241.5,207.5 241.7,208.9 241.8,210.3 242.0,211.7 242.2,213.2 242.4,214.8 242.5,216.3 242.7,217.9 242.9,219.4 243.1,221.0 243.3,222.6 243.5,224.1 243.7,225.7 243.9,227.3 244.1,228.8 244.3,230.4 244.5,231.9 244.7,233.5 244.9,235.0 245.1,236.5 245.3,238.1 245.5,239.6" fill="none" stroke="#0000ff" stroke-width="1.3" stroke-linejoin="round"/>
<path d="M236.4,136.0 236.5,138.0 236.5,140.0 236.6,142.0 236.7,144.0 236.8,146.0 236.9,148.0 237.0,150.0 237.2,152.0 237.4,154.0 237.5,156.0 237.7,158.0 237.9,160.0 238.1,162.0 238.3,164.0 238.4,166.0 238.6,168.0 238.8,170.0 239.0,172.0 239.2,174.0 239.4,176.0 239.6,178.0 239.9,180.0 240.1,182.0 240.3,184.0 240.5,185.9 240.7,187.8 240.9,189.6 241.0,191.5 241.2,193.3 241.4,195.0 241.6,196.5 241.7,197.9 241.9,199.3 242.1,200.6 242.2,202.0 242.4,203.4 242.6,204.8 242.7,206.2 242.9,207.5 243.1,208.9 243.2,210.3 243.4,211.7 243.6,213.2 243.8,214.8 243.9,216.3 244.1,217.9 244.3,219.4 244.5,221.0 244.7,222.6 244.9,224.1 245.1,225.7 245.3,227.3 245.5,228.8 245.7,230.4 245.9,231.9 246.1,233.5 246.3,235.0 246.5,236.5 246.7,238.1 246.9,239.6" fill="none" stroke="#0000ff" stroke-width="1.2" stroke-dasharray="4.5,3" stroke-dashoffset="0" stroke-linejoin="round"/>
<path d="M233.6,136.0 233.7,138.0 233.7,140.0 233.8,142.0 233.9,144.0 234.0,146.0 234.1,148.0 234.2,150.0 234.4,152.0 234.6,154.0 234.7,156.0 234.9,158.0 235.1,160.0 235.3,162.0 235.5,164.0 235.6,166.0 235.8,168.0 236.0,170.0 236.2,172.0 236.4,174.0 236.6,176.0 236.8,178.0 237.1,180.0 237.3,182.0 237.5,184.0 237.7,185.9 237.9,187.8 238.1,189.6 238.2,191.5 238.4,193.3 238.6,195.0 238.8,196.5 238.9,197.9 239.1,199.3 239.3,200.6 239.4,202.0 239.6,203.4 239.8,204.8 239.9,206.2 240.1,207.5 240.3,208.9 240.4,210.3 240.6,211.7 240.8,213.2 241.0,214.8 241.1,216.3 241.3,217.9 241.5,219.4 241.7,221.0 241.9,222.6 242.1,224.1 242.3,225.7 242.5,227.3 242.7,228.8 242.9,230.4 243.1,231.9 243.3,233.5 243.5,235.0 243.7,236.5 243.9,238.1 244.1,239.6" fill="none" stroke="#0000ff" stroke-width="1.2" stroke-dasharray="4.5,1.8,1.3,1.8" stroke-dashoffset="0" stroke-linejoin="round"/>
<path d="M385.2,136.0 385.3,134.3 385.4,132.7 385.5,131.0 385.7,129.3 385.8,127.7 385.9,126.0 386.0,124.4 386.1,122.8 386.3,121.2 386.4,119.6 386.5,118.0 386.7,116.5 386.9,115.1 387.1,113.6 387.3,112.2 387.5,110.8 387.7,109.4 388.0,108.0 388.3,106.4 388.6,104.8 388.9,103.2 389.2,101.6 389.5,100.1 389.9,98.5 390.3,97.0 390.7,95.6 391.1,94.2 391.6,92.8 392.1,91.4 392.6,90.0 393.2,88.6 393.8,87.2 394.5,85.8 395.2,84.4 396.0,83.0 396.8,81.7 397.7,80.4 398.6,79.1 399.5,77.8 400.5,76.5 401.5,75.4 402.4,74.3 403.1,73.5 403.9,72.8 404.6,72.1 405.4,71.4 406.1,70.8 406.8,70.2 407.4,69.7 408.0,69.3 408.6,68.9 409.1,68.5 409.8,68.1 410.4,67.7 411.2,67.2 412.0,66.7 412.9,66.2 413.8,65.7 414.7,65.2 415.5,64.8 416.2,64.4 416.9,64.1 417.5,63.8 418.2,63.4 419.0,63.1 419.8,62.8 421.1,62.3 422.7,61.9 424.3,61.4 425.9,61.0 427.6,60.6 429.3,60.2 431.1,59.9 432.9,59.6 434.7,59.4 436.6,59.2 438.3,59.0 440.0,58.9 441.3,58.8 442.5,58.8 443.8,58.7 444.9,58.7 446.1,58.8 447.3,58.8 448.4,58.9 449.5,59.0 450.6,59.1 451.7,59.2 452.9,59.4 454.0,59.5 455.3,59.7 456.6,59.9 458.0,60.1 459.3,60.3 460.6,60.5 461.8,60.7 462.7,60.9 463.5,61.0 464.3,61.2 465.0,61.3 465.8,61.5 466.5,61.7 467.2,61.9 467.8,62.1 468.5,62.3 469.1,62.5 469.8,62.7 470.5,62.9 471.4,63.2 472.4,63.6 473.4,63.9 474.5,64.3 475.4,64.7 476.4,65.1 477.2,65.4 478.0,65.7 478.8,66.1 479.5,66.4 480.3,66.7 481.0,67.1 481.8,67.5 482.5,67.9 483.3,68.3 484.0,68.8 484.8,69.3 485.5,69.8 486.3,70.5 487.2,71.3 488.0,72.1 488.8,73.0 489.6,73.9 490.4,74.8 491.3,75.8 492.1,76.7 493.0,77.7 493.8,78.7 494.6,79.8 495.3,80.9 496.0,82.1 496.6,83.3 497.2,84.6 497.7,85.9 498.3,87.2 498.8,88.5 499.3,89.8 499.8,91.1 500.3,92.5 500.7,93.8 501.2,95.1 501.6,96.5 502.0,97.9 502.4,99.3 502.7,100.7 503.1,102.1 503.4,103.5 503.7,105.0 504.0,106.7 504.3,108.4 504.6,110.2 504.9,112.0 505.1,113.7 505.4,115.5 505.6,117.3 505.9,119.0 506.1,120.8 506.3,122.5 506.5,124.3 506.7,126.0 506.8,127.7 506.9,129.3 507.0,131.0 507.1,132.7 507.1,134.3 507.2,136.0" fill="none" stroke="#ff0000" stroke-width="1.2" stroke-linejoin="round"/>
<path d="M392.0,136.0 392.1,134.3 392.2,132.7 392.3,131.0 392.4,129.3 392.5,127.7 392.6,126.0 392.7,124.4 392.8,122.8 392.9,121.2 393.1,119.6 393.2,118.0 393.4,116.5 393.6,115.1 393.9,113.6 394.1,112.2 394.4,110.8 394.7,109.4 395.1,108.0 395.5,106.5 396.0,105.0 396.5,103.5 397.0,102.1 397.5,100.6 398.0,99.3 398.4,98.2 398.8,97.2 399.2,96.2 399.6,95.3 400.0,94.4 400.4,93.5 400.7,92.8 401.1,92.1 401.4,91.5 401.7,90.8 402.0,90.2 402.4,89.5 402.8,88.7 403.3,87.8 403.7,87.0 404.2,86.1 404.7,85.3 405.2,84.5 405.7,83.8 406.2,83.2 406.7,82.6 407.3,82.0 407.8,81.4 408.4,80.8 409.0,80.1 409.7,79.5 410.3,78.8 411.0,78.2 411.7,77.5 412.5,76.9 413.4,76.2 414.3,75.5 415.3,74.8 416.3,74.1 417.4,73.5 418.4,72.9 419.4,72.4 420.5,71.9 421.6,71.5 422.7,71.2 423.8,70.8 424.9,70.5 425.9,70.2 426.8,70.0 427.8,69.8 428.7,69.6 429.7,69.5 430.7,69.3 431.8,69.1 432.9,68.9 434.0,68.8 435.1,68.6 436.2,68.5 437.3,68.4 438.4,68.3 439.5,68.2 440.6,68.2 441.8,68.2 442.9,68.2 444.0,68.2 445.2,68.3 446.3,68.4 447.5,68.5 448.7,68.7 449.8,68.8 450.9,69.0 451.7,69.1 452.5,69.3 453.3,69.4 454.0,69.6 454.7,69.7 455.5,69.9 456.3,70.1 457.1,70.3 458.0,70.5 458.8,70.7 459.6,71.0 460.4,71.2 461.2,71.4 462.0,71.6 462.7,71.9 463.5,72.1 464.3,72.3 465.0,72.6 465.7,72.9 466.4,73.1 467.0,73.4 467.7,73.6 468.4,73.9 469.1,74.3 470.0,74.8 470.9,75.3 471.8,75.9 472.7,76.5 473.6,77.1 474.5,77.8 475.4,78.5 476.4,79.3 477.3,80.1 478.3,80.9 479.1,81.7 480.0,82.6 480.8,83.5 481.6,84.4 482.3,85.4 483.1,86.3 483.7,87.3 484.4,88.3 485.0,89.2 485.5,90.2 486.1,91.1 486.6,92.1 487.0,93.0 487.5,94.0 487.9,94.9 488.3,95.8 488.7,96.7 489.1,97.7 489.4,98.6 489.8,99.6 490.2,100.8 490.7,102.0 491.1,103.2 491.5,104.4 491.9,105.7 492.3,107.0 492.7,108.4 493.1,109.9 493.4,111.4 493.8,112.9 494.1,114.5 494.4,116.0 494.7,117.6 495.0,119.3 495.2,121.0 495.5,122.6 495.7,124.3 495.9,126.0 496.1,127.7 496.2,129.3 496.3,131.0 496.5,132.7 496.6,134.3 496.7,136.0" fill="none" stroke="#ff0000" stroke-width="1.2" stroke-dasharray="4.5,1.8,1.3,1.8" stroke-dashoffset="1.2" stroke-linejoin="round"/>
<path d="M389.3,136.0 389.4,134.3 389.6,132.6 389.7,131.0 389.8,129.3 390.0,127.6 390.1,126.0 390.2,124.5 390.3,123.0 390.4,121.5 390.5,120.0 390.6,118.5 390.8,117.0 391.0,115.5 391.2,114.0 391.5,112.5 391.7,111.0 392.0,109.5 392.3,108.0 392.6,106.4 392.9,104.8 393.3,103.2 393.6,101.6 394.0,100.0 394.4,98.5 394.8,97.2 395.3,95.9 395.7,94.6 396.2,93.4 396.7,92.2 397.2,91.0 397.6,90.0 398.1,89.1 398.5,88.2 399.0,87.3 399.5,86.5 400.0,85.6 400.5,84.7 401.0,83.9 401.6,83.0 402.1,82.2 402.7,81.3 403.4,80.5 404.2,79.6 405.2,78.7 406.1,77.8 407.1,76.9 408.2,76.1 409.2,75.3 410.2,74.6 411.2,73.8 412.3,73.1 413.3,72.5 414.4,71.8 415.5,71.2 416.7,70.5 417.8,69.9 419.0,69.3 420.2,68.7 421.5,68.1 422.7,67.6 424.0,67.1 425.3,66.7 426.7,66.2 428.1,65.9 429.4,65.5 430.7,65.2 431.8,65.0 432.9,64.8 434.0,64.6 435.1,64.4 436.2,64.3 437.3,64.2 438.4,64.1 439.5,64.0 440.6,63.9 441.8,63.9 442.9,63.8 444.0,63.8 445.2,63.8 446.3,63.9 447.5,63.9 448.7,64.0 449.8,64.1 450.9,64.2 451.9,64.3 452.8,64.4 453.7,64.6 454.7,64.7 455.6,64.8 456.5,65.0 457.4,65.2 458.3,65.3 459.2,65.5 460.1,65.7 460.9,65.9 461.8,66.1 462.6,66.3 463.4,66.5 464.2,66.8 465.0,67.0 465.7,67.3 466.5,67.5 467.2,67.7 467.9,68.0 468.5,68.2 469.2,68.5 469.8,68.7 470.5,69.0 471.3,69.3 472.1,69.7 472.9,70.0 473.7,70.4 474.4,70.8 475.2,71.2 475.9,71.6 476.6,72.0 477.3,72.4 478.0,72.9 478.7,73.4 479.4,73.9 480.4,74.7 481.5,75.6 482.7,76.5 483.8,77.5 484.9,78.5 485.8,79.5 486.5,80.3 487.2,81.2 487.8,82.0 488.4,82.8 489.0,83.7 489.5,84.5 489.9,85.2 490.3,86.0 490.7,86.7 491.0,87.5 491.4,88.2 491.8,89.0 492.3,89.9 492.8,90.8 493.3,91.7 493.8,92.7 494.3,93.6 494.8,94.5 495.2,95.3 495.6,96.1 496.0,96.9 496.4,97.8 496.8,98.6 497.1,99.5 497.4,100.6 497.6,101.7 497.8,102.8 498.0,104.0 498.2,105.3 498.4,106.5 498.6,108.0 498.9,109.5 499.1,111.1 499.4,112.8 499.6,114.4 499.8,116.0 500.0,117.7 500.2,119.3 500.4,121.0 500.6,122.7 500.8,124.3 500.9,126.0 501.0,127.7 501.1,129.3 501.1,131.0 501.2,132.7 501.2,134.3 501.3,136.0" fill="none" stroke="#ff0000" stroke-width="1.4" stroke-linejoin="round"/>
<path d="M386.7,116.5 386.6,118.1 386.4,119.7 386.3,121.3 386.2,122.9 386.0,124.5 385.9,126.0 385.8,127.4 385.6,128.8 385.5,130.1 385.3,131.4 385.2,132.7 385.0,134.0 384.9,135.0 384.7,136.0 384.5,137.0 384.4,138.0 384.2,139.0 384.1,140.0 384.0,141.3 383.8,142.6 383.7,144.0 383.6,145.4 383.5,146.7 383.3,148.0 383.1,149.1 383.0,150.1 382.8,151.1 382.6,152.1 382.3,153.1 382.1,154.0 381.9,154.7 381.7,155.4 381.4,156.0 381.2,156.6 380.9,157.3 380.6,157.9 380.3,158.6 379.9,159.2 379.5,159.9 379.1,160.5 378.6,161.2 378.2,161.8 377.7,162.5 377.3,163.2 376.8,163.9 376.3,164.5 375.7,165.2 375.2,165.9 374.6,166.6 374.0,167.3 373.4,168.0 372.7,168.7 372.1,169.4 371.4,170.0 370.8,170.6 370.1,171.1 369.4,171.7 368.7,172.2 368.1,172.7 367.4,173.2 366.8,173.6 366.2,174.0 365.6,174.4 364.9,174.8 364.4,175.2 363.8,175.5 363.4,175.8 363.0,176.0 362.6,176.3 362.3,176.5 361.9,176.7 361.4,177.0 360.6,177.4 359.6,177.8 358.6,178.3 357.6,178.7 356.5,179.1 355.5,179.5 354.5,179.9 353.6,180.2 352.6,180.5 351.7,180.8 350.7,181.2 349.6,181.5 348.2,182.0 346.7,182.4 345.2,182.9 343.6,183.4 342.0,183.9 340.4,184.3 338.6,184.8 336.7,185.2 334.8,185.6 332.8,186.1 330.9,186.5 329.0,186.9" fill="none" stroke="#ff0000" stroke-width="1.2" stroke-linejoin="round"/>
<path d="M390.8,117.0 390.7,118.5 390.5,120.0 390.4,121.5 390.2,123.0 390.1,124.5 389.9,126.0 389.7,127.4 389.5,128.7 389.3,130.1 389.0,131.4 388.8,132.7 388.6,134.0 388.4,135.0 388.2,136.0 388.0,137.0 387.8,138.0 387.7,139.0 387.5,140.0 387.3,141.3 387.2,142.6 387.0,143.9 386.9,145.3 386.7,146.6 386.5,148.0 386.3,149.4 386.1,150.9 385.8,152.4 385.6,153.8 385.3,155.1 384.9,156.3 384.6,157.0 384.3,157.7 384.0,158.3 383.6,159.0 383.3,159.6 382.9,160.2 382.5,160.9 382.0,161.7 381.6,162.5 381.1,163.2 380.6,164.0 380.1,164.7 379.6,165.4 379.0,166.2 378.5,166.9 377.9,167.6 377.3,168.3 376.7,169.0 376.0,169.7 375.4,170.3 374.7,170.9 373.9,171.5 373.2,172.1 372.5,172.6 371.8,173.1 371.2,173.5 370.5,173.9 369.8,174.3 369.1,174.7 368.3,175.2 367.2,175.9 366.1,176.6 364.9,177.3 363.7,178.0 362.6,178.7 361.4,179.3 360.4,179.7 359.4,180.1 358.4,180.5 357.5,180.8 356.5,181.2 355.5,181.5 354.5,181.8 353.6,182.1 352.6,182.4 351.7,182.7 350.7,183.0 349.6,183.3 348.2,183.7 346.7,184.1 345.2,184.6 343.6,185.0 342.0,185.5 340.4,185.9 338.6,186.4 336.7,186.8 334.8,187.2 332.8,187.6 330.9,188.1 329.0,188.5" fill="none" stroke="#ff0000" stroke-width="1.3" stroke-linejoin="round"/>
<path d="M393.4,116.5 393.3,118.1 393.1,119.7 393.0,121.3 392.8,122.9 392.7,124.5 392.5,126.0 392.3,127.4 392.2,128.8 392.0,130.1 391.8,131.4 391.7,132.7 391.5,134.0 391.4,135.0 391.2,136.0 391.1,137.0 391.0,137.9 390.8,138.9 390.7,140.0 390.5,141.4 390.4,142.9 390.2,144.4 390.0,145.9 389.8,147.5 389.6,149.0 389.3,150.6 389.1,152.3 388.8,154.1 388.5,155.7 388.1,157.2 387.7,158.5 387.4,159.2 387.1,159.8 386.8,160.3 386.4,160.8 386.1,161.3 385.7,161.9 385.3,162.5 384.8,163.2 384.3,163.9 383.9,164.5 383.4,165.2 382.9,165.8 382.5,166.3 382.0,166.8 381.6,167.3 381.1,167.8 380.7,168.3 380.2,168.8 379.7,169.3 379.3,169.7 378.8,170.2 378.3,170.7 377.8,171.1 377.3,171.6 376.7,172.1 376.2,172.6 375.6,173.1 375.0,173.6 374.3,174.1 373.6,174.6 372.6,175.2 371.5,175.9 370.4,176.5 369.2,177.1 368.1,177.7 367.0,178.3 366.0,178.8 365.1,179.4 364.2,179.9 363.3,180.4 362.3,180.9 361.4,181.3 360.4,181.7 359.5,182.1 358.5,182.4 357.5,182.7 356.5,183.1 355.5,183.4 354.5,183.7 353.6,184.0 352.6,184.3 351.7,184.7 350.7,185.0 349.6,185.3 348.2,185.7 346.7,186.2 345.2,186.7 343.6,187.1 342.0,187.6 340.4,188.0 338.6,188.4 336.7,188.8 334.8,189.1 332.8,189.4 330.9,189.8 329.0,190.1" fill="none" stroke="#ff0000" stroke-width="1.2" stroke-dasharray="4.5,3" stroke-dashoffset="0" stroke-linejoin="round"/>
<path d="M506.7,126.0 506.8,127.2 507.0,128.3 507.1,129.5 507.3,130.6 507.4,131.8 507.6,133.0 507.8,134.3 507.9,135.6 508.1,137.0 508.2,138.3 508.4,139.7 508.6,141.0 508.8,142.3 509.0,143.7 509.2,145.0 509.4,146.4 509.6,147.7 509.9,149.0 510.2,150.3 510.5,151.6 510.9,152.9 511.2,154.2 511.6,155.4 512.0,156.5 512.3,157.3 512.6,157.9 512.9,158.6 513.2,159.2 513.5,159.9 513.8,160.5 514.1,161.1 514.4,161.8 514.8,162.4 515.1,163.0 515.4,163.6 515.8,164.1 516.1,164.6 516.5,165.0 516.8,165.4 517.2,165.8 517.6,166.2 518.0,166.6 518.5,167.1 519.1,167.5 519.8,168.0 520.4,168.4 521.1,168.9 521.7,169.3 522.3,169.7 522.9,170.1 523.6,170.6 524.2,171.0 524.9,171.4 525.5,171.8 526.2,172.2 526.9,172.7 527.6,173.1 528.3,173.6 529.0,174.1 529.8,174.5 530.7,175.0 531.6,175.5 532.6,176.0 533.5,176.5 534.5,177.0 535.5,177.5 536.6,178.0 537.6,178.5 538.7,179.0 539.8,179.5 540.9,180.0 542.0,180.5" fill="none" stroke="#ff0000" stroke-width="1.2" stroke-linejoin="round"/>
<path d="M500.9,126.0 501.0,127.2 501.2,128.3 501.3,129.5 501.4,130.6 501.6,131.8 501.7,133.0 501.8,134.3 502.0,135.6 502.1,137.0 502.2,138.4 502.4,139.7 502.6,141.0 502.8,142.2 503.1,143.4 503.4,144.5 503.7,145.7 504.0,146.8 504.3,148.0 504.6,149.1 505.0,150.3 505.3,151.4 505.7,152.5 506.1,153.7 506.5,154.8 507.0,156.1 507.5,157.4 508.1,158.8 508.6,160.1 509.2,161.3 509.8,162.4 510.2,163.0 510.6,163.6 511.0,164.1 511.4,164.6 511.9,165.1 512.3,165.6 512.7,166.1 513.1,166.5 513.6,167.0 514.0,167.4 514.4,167.8 514.9,168.2 515.4,168.6 515.9,168.9 516.4,169.3 516.9,169.6 517.4,169.9 518.0,170.3 518.8,170.8 519.7,171.4 520.6,172.0 521.6,172.5 522.6,173.1 523.5,173.7 524.4,174.3 525.3,174.8 526.2,175.4 527.1,175.9 528.0,176.5 529.0,177.0 530.0,177.6 531.1,178.1 532.2,178.6 533.3,179.2 534.4,179.7 535.5,180.2 536.6,180.7 537.7,181.2 538.7,181.8 539.8,182.3 540.9,182.8 542.0,183.3" fill="none" stroke="#ff0000" stroke-width="1.3" stroke-linejoin="round"/>
<path d="M495.9,126.0 496.1,127.2 496.2,128.3 496.4,129.5 496.5,130.6 496.7,131.8 496.8,133.0 496.9,134.3 497.0,135.6 497.1,136.9 497.3,138.3 497.4,139.6 497.6,141.0 497.9,142.6 498.2,144.2 498.6,145.8 499.0,147.5 499.3,149.0 499.7,150.5 500.0,151.6 500.3,152.6 500.5,153.7 500.8,154.6 501.1,155.6 501.4,156.5 501.7,157.3 501.9,158.0 502.2,158.7 502.4,159.4 502.7,160.0 503.1,160.7 503.6,161.4 504.1,162.1 504.6,162.8 505.2,163.5 505.9,164.2 506.5,164.9 507.3,165.7 508.0,166.6 508.9,167.5 509.7,168.3 510.6,169.2 511.5,170.0 512.5,170.8 513.5,171.6 514.6,172.3 515.7,173.0 516.8,173.8 518.0,174.5 519.3,175.3 520.7,176.2 522.2,177.0 523.6,177.9 525.1,178.7 526.5,179.5 527.9,180.3 529.3,181.0 530.7,181.8 532.1,182.5 533.5,183.2 534.9,183.8 536.1,184.3 537.3,184.8 538.5,185.3 539.6,185.7 540.8,186.1 542.0,186.6" fill="none" stroke="#ff0000" stroke-width="1.2" stroke-dasharray="4.5,3" stroke-dashoffset="0" stroke-linejoin="round"/>
<path d="M388.0,171.0 390.0,171.0 391.9,171.1 393.8,171.1 395.8,171.1 397.8,171.2 400.0,171.2 403.0,171.2 406.2,171.3 409.5,171.3 413.0,171.3 416.5,171.4 420.0,171.4 424.0,171.4 428.2,171.5 432.4,171.5 436.6,171.5 440.8,171.6 445.0,171.6 449.0,171.7 453.0,171.7 456.9,171.8 460.8,171.9 464.7,171.9 468.6,171.9 472.3,171.9 476.1,171.8 479.9,171.8 483.6,171.7 486.9,171.5 489.9,171.3 491.5,171.1 493.0,171.0 494.4,170.8 495.7,170.6 497.0,170.3 498.2,170.1 499.2,169.9 500.1,169.6 501.0,169.4 501.9,169.1 502.7,168.9 503.5,168.7 504.1,168.6 504.7,168.5 505.3,168.4 505.9,168.3 506.5,168.2 507.1,168.1" fill="none" stroke="#000" stroke-width="1.8" stroke-linejoin="round"/>
<path d="M388.0,171.0 387.5,171.6 387.0,172.2 386.6,172.9 386.1,173.5 385.6,174.1 385.2,174.8 384.8,175.5 384.4,176.2 384.0,177.0 383.6,177.7 383.2,178.4 382.8,179.2 382.4,180.0 382.0,180.8 381.6,181.6 381.2,182.4 380.9,183.2 380.5,184.0 380.2,184.7 379.8,185.5 379.5,186.2 379.2,187.0 378.8,187.7 378.5,188.5 378.1,189.4 377.7,190.4 377.3,191.5 377.0,192.5 376.6,193.5 376.2,194.5 375.9,195.4 375.6,196.4 375.3,197.3 374.9,198.2 374.6,199.1 374.2,200.0 373.7,201.0 373.2,201.9 372.7,202.8 372.1,203.8 371.5,204.7 370.9,205.7 370.2,206.7 369.6,207.8 368.9,208.8 368.2,209.8 367.4,210.9 366.6,212.0 365.6,213.4 364.4,214.9 363.2,216.4 362.0,218.0 360.9,219.5 359.7,220.9 358.7,222.1 357.7,223.3 356.7,224.4 355.7,225.6 354.7,226.7 353.8,227.8 353.0,228.8 352.2,229.8 351.4,230.8 350.7,231.8 350.0,232.8 349.4,233.7 349.0,234.4 348.6,235.1 348.2,235.8 347.9,236.4 347.6,237.0 347.4,237.6 347.3,237.9 347.2,238.2 347.1,238.5 347.0,238.8 346.9,239.1 346.8,239.4" fill="none" stroke="#000" stroke-width="1.3" stroke-linejoin="round"/>
<path d="M388.0,171.0 387.3,171.1 386.7,171.3 386.0,171.4 385.4,171.5 384.7,171.7 384.2,172.0 383.8,172.3 383.4,172.6 383.0,173.0 382.7,173.5 382.3,173.9 382.0,174.4 381.6,175.1 381.1,176.0 380.7,176.9 380.4,177.8 380.0,178.7 379.6,179.6 379.3,180.4 378.9,181.2 378.6,182.0 378.3,182.7 377.9,183.5 377.6,184.3 377.3,185.1 377.0,185.8 376.7,186.6 376.4,187.4 376.0,188.2 375.7,189.0 375.3,190.1 374.8,191.2 374.3,192.4 373.8,193.6 373.3,194.8 372.8,196.0 372.3,197.1 371.9,198.2 371.4,199.4 371.0,200.5 370.5,201.5 370.0,202.4 369.6,203.0 369.2,203.5 368.8,204.0 368.4,204.5 368.0,205.1 367.6,205.7 366.9,206.7 366.3,207.9 365.6,209.2 364.8,210.5 364.0,211.8 363.2,213.0 362.2,214.3 361.2,215.7 360.1,217.0 359.0,218.3 357.9,219.6 356.8,220.9 355.8,222.1 354.8,223.2 353.7,224.3 352.7,225.5 351.7,226.6 350.8,227.8 349.9,229.1 349.0,230.5 348.1,231.9 347.3,233.2 346.5,234.5 345.9,235.7 345.6,236.4 345.3,237.0 345.1,237.6 344.8,238.2 344.6,238.8 344.4,239.4" fill="none" stroke="#000" stroke-width="1.2" stroke-dasharray="4.5,3" stroke-dashoffset="0" stroke-linejoin="round"/>
<path d="M388.0,171.0 387.8,171.5 387.7,172.0 387.5,172.6 387.4,173.1 387.2,173.6 387.0,174.2 386.7,175.0 386.4,175.9 386.1,176.8 385.7,177.7 385.3,178.6 385.0,179.5 384.7,180.3 384.3,181.2 384.0,182.0 383.7,182.9 383.3,183.7 383.0,184.5 382.7,185.3 382.4,186.0 382.1,186.7 381.8,187.4 381.5,188.2 381.2,189.0 380.7,190.1 380.3,191.3 379.8,192.5 379.2,193.7 378.7,194.9 378.2,196.0 377.8,196.9 377.4,197.7 376.9,198.5 376.5,199.4 376.1,200.2 375.6,201.0 375.1,201.9 374.5,202.9 374.0,203.8 373.4,204.8 372.8,205.7 372.3,206.6 371.8,207.3 371.4,208.1 370.9,208.8 370.5,209.5 370.0,210.2 369.5,210.9 369.0,211.7 368.4,212.5 367.9,213.4 367.3,214.2 366.8,215.1 366.1,216.0 365.2,217.2 364.1,218.5 363.0,219.8 361.8,221.2 360.7,222.5 359.7,223.8 358.8,225.0 358.0,226.1 357.1,227.3 356.3,228.4 355.6,229.6 354.8,230.7 354.1,231.7 353.4,232.7 352.8,233.7 352.1,234.7 351.5,235.6 351.0,236.5 350.7,237.0 350.4,237.5 350.1,238.0 349.9,238.5 349.7,238.9 349.4,239.4" fill="none" stroke="#000" stroke-width="1.2" stroke-dasharray="4.5,1.8,1.3,1.8" stroke-dashoffset="0" stroke-linejoin="round"/>
<path d="M503.3,170.0 504.1,170.3 505.0,170.6 505.8,171.0 506.6,171.3 507.4,171.7 508.2,172.2 509.0,172.9 509.8,173.8 510.5,174.7 511.2,175.7 511.8,176.6 512.5,177.4 513.0,178.0 513.5,178.5 513.9,178.9 514.4,179.4 514.8,179.9 515.3,180.5 515.8,181.3 516.4,182.1 516.9,183.0 517.4,184.0 518.0,184.9 518.5,185.8 519.1,186.8 519.7,187.8 520.3,188.8 520.9,189.8 521.5,190.7 522.0,191.6 522.3,192.2 522.6,192.8 522.9,193.4 523.2,193.9 523.4,194.5 523.7,195.1 524.0,195.8 524.3,196.5 524.6,197.2 524.8,198.0 525.1,198.7 525.4,199.5 525.7,200.4 526.1,201.3 526.5,202.3 526.9,203.2 527.2,204.1 527.5,205.0 527.7,205.7 527.9,206.3 528.1,207.0 528.2,207.6 528.4,208.3 528.6,209.0 528.9,210.1 529.2,211.2 529.6,212.4 529.9,213.6 530.3,214.8 530.6,216.0 530.9,217.2 531.3,218.5 531.6,219.8 531.9,221.1 532.2,222.3 532.5,223.6 532.8,224.8 533.0,226.1 533.3,227.3 533.5,228.6 533.8,229.8 534.0,231.1 534.2,232.5 534.4,233.8 534.6,235.2 534.8,236.6 535.0,238.0 535.2,239.4" fill="none" stroke="#000" stroke-width="1.3" stroke-linejoin="round"/>
<path d="M507.1,168.1 507.9,168.6 508.8,169.1 509.6,169.5 510.4,170.0 511.2,170.5 512.0,171.1 512.7,171.7 513.4,172.4 514.0,173.0 514.6,173.7 515.2,174.5 515.8,175.2 516.4,176.0 517.0,176.8 517.6,177.6 518.1,178.5 518.6,179.3 519.1,180.0 519.4,180.5 519.7,181.0 520.0,181.4 520.2,181.9 520.5,182.4 520.8,182.9 521.2,183.6 521.6,184.4 522.0,185.2 522.3,186.0 522.7,186.8 523.1,187.6 523.4,188.2 523.7,188.8 524.1,189.4 524.4,189.9 524.6,190.5 524.9,191.1 525.1,191.7 525.3,192.4 525.5,193.1 525.7,193.7 525.8,194.4 526.0,195.1 526.2,195.8 526.4,196.5 526.6,197.3 526.9,198.0 527.1,198.7 527.3,199.5 527.5,200.4 527.8,201.3 528.0,202.3 528.2,203.2 528.4,204.1 528.6,205.0 528.8,205.7 528.9,206.3 529.0,207.0 529.2,207.6 529.3,208.3 529.5,209.0 529.8,210.1 530.1,211.2 530.4,212.4 530.7,213.6 531.1,214.8 531.4,216.0 531.7,217.2 532.0,218.5 532.3,219.8 532.6,221.1 532.9,222.3 533.2,223.6 533.5,224.8 533.7,226.1 533.9,227.3 534.2,228.6 534.4,229.8 534.6,231.1 534.8,232.5 535.0,233.8 535.2,235.2 535.3,236.6 535.5,238.0 535.7,239.4" fill="none" stroke="#000" stroke-width="1.2" stroke-dasharray="4.5,3" stroke-dashoffset="0" stroke-linejoin="round"/>
<path d="M500.5,171.0 501.0,171.4 501.4,171.7 501.8,172.1 502.3,172.4 502.8,172.8 503.3,173.2 504.1,173.7 504.9,174.3 505.8,174.9 506.6,175.6 507.5,176.2 508.2,176.8 508.7,177.3 509.2,177.9 509.7,178.4 510.1,178.9 510.6,179.5 511.0,180.0 511.4,180.5 511.7,180.9 512.1,181.4 512.4,181.9 512.8,182.4 513.2,182.9 513.7,183.6 514.3,184.4 514.9,185.1 515.5,185.9 516.1,186.8 516.7,187.6 517.3,188.5 517.9,189.5 518.5,190.5 519.1,191.5 519.7,192.5 520.2,193.4 520.6,194.1 521.0,194.8 521.4,195.5 521.8,196.1 522.1,196.8 522.5,197.5 522.9,198.2 523.3,199.0 523.7,199.7 524.1,200.5 524.4,201.3 524.8,202.0 525.1,202.7 525.4,203.4 525.8,204.0 526.1,204.7 526.3,205.3 526.6,206.0 526.8,206.6 527.0,207.1 527.2,207.7 527.4,208.2 527.6,208.8 527.8,209.5 528.1,210.5 528.5,211.6 528.8,212.8 529.2,214.1 529.6,215.3 529.9,216.5 530.2,217.7 530.6,219.0 530.9,220.2 531.3,221.5 531.6,222.7 531.9,224.0 532.2,225.2 532.4,226.5 532.7,227.7 532.9,229.0 533.2,230.2 533.4,231.5 533.6,232.8 533.8,234.1 534.0,235.4 534.2,236.8 534.4,238.1 534.6,239.4" fill="none" stroke="#000" stroke-width="1.2" stroke-dasharray="4.5,1.8,1.3,1.8" stroke-dashoffset="0" stroke-linejoin="round"/>
<path d="M385.2,136.0 385.3,134.3 385.4,132.7 385.5,131.0 385.7,129.3 385.8,127.7 385.9,126.0 386.0,124.4 386.1,122.8 386.3,121.2 386.4,119.6 386.5,118.0 386.7,116.5 386.9,115.1 387.1,113.6 387.3,112.2 387.5,110.8 387.7,109.4 388.0,108.0 388.3,106.4 388.6,104.8 388.9,103.2 389.2,101.6 389.5,100.1 389.9,98.5 390.3,97.0 390.7,95.6 391.1,94.2 391.6,92.8 392.1,91.4 392.6,90.0 393.2,88.6 393.8,87.2 394.5,85.8 395.2,84.4 396.0,83.0 396.8,81.7 397.7,80.4 398.6,79.1 399.5,77.8 400.5,76.5 401.5,75.4 402.4,74.3 403.1,73.5 403.9,72.8 404.6,72.1 405.4,71.4 406.1,70.8 406.8,70.2 407.4,69.7 408.0,69.3 408.6,68.9 409.1,68.5 409.8,68.1 410.4,67.7 411.2,67.2 412.0,66.7 412.9,66.2 413.8,65.7 414.7,65.2 415.5,64.8 416.2,64.4 416.9,64.1 417.5,63.8 418.2,63.4 419.0,63.1 419.8,62.8 421.1,62.3 422.7,61.9 424.3,61.4 425.9,61.0 427.6,60.6 429.3,60.2 431.1,59.9 432.9,59.6 434.7,59.4 436.6,59.2 438.3,59.0 440.0,58.9 441.3,58.8 442.5,58.8 443.8,58.7 444.9,58.7 446.1,58.8 447.3,58.8 448.4,58.9 449.5,59.0 450.6,59.1 451.7,59.2 452.9,59.4 454.0,59.5 455.3,59.7 456.6,59.9 458.0,60.1 459.3,60.3 460.6,60.5 461.8,60.7 462.7,60.9 463.5,61.0 464.3,61.2 465.0,61.3 465.8,61.5 466.5,61.7 467.2,61.9 467.8,62.1 468.5,62.3 469.1,62.5 469.8,62.7 470.5,62.9 471.4,63.2 472.4,63.6 473.4,63.9 474.5,64.3 475.4,64.7 476.4,65.1 477.2,65.4 478.0,65.7 478.8,66.1 479.5,66.4 480.3,66.7 481.0,67.1 481.8,67.5 482.5,67.9 483.3,68.3 484.0,68.8 484.8,69.3 485.5,69.8 486.3,70.5 487.2,71.3 488.0,72.1 488.8,73.0 489.6,73.9 490.4,74.8 491.3,75.8 492.1,76.7 493.0,77.7 493.8,78.7 494.6,79.8 495.3,80.9 496.0,82.1 496.6,83.3 497.2,84.6 497.7,85.9 498.3,87.2 498.8,88.5 499.3,89.8 499.8,91.1 500.3,92.5 500.7,93.8 501.2,95.1 501.6,96.5 502.0,97.9 502.4,99.3 502.7,100.7 503.1,102.1 503.4,103.5 503.7,105.0 504.0,106.7 504.3,108.4 504.6,110.2 504.9,112.0 505.1,113.7 505.4,115.5 505.6,117.3 505.9,119.0 506.1,120.8 506.3,122.5 506.5,124.3 506.7,126.0 506.8,127.7 506.9,129.3 507.0,131.0 507.1,132.7 507.1,134.3 507.2,136.0" fill="none" stroke="#0000ff" stroke-width="1.2" stroke-dasharray="4.5,3" stroke-dashoffset="0" stroke-linejoin="round"/>
<path d="M392.0,136.0 392.1,134.3 392.2,132.7 392.3,131.0 392.4,129.3 392.5,127.7 392.6,126.0 392.7,124.4 392.8,122.8 392.9,121.2 393.1,119.6 393.2,118.0 393.4,116.5 393.6,115.1 393.9,113.6 394.1,112.2 394.4,110.8 394.7,109.4 395.1,108.0 395.5,106.5 396.0,105.0 396.5,103.5 397.0,102.1 397.5,100.6 398.0,99.3 398.4,98.2 398.8,97.2 399.2,96.2 399.6,95.3 400.0,94.4 400.4,93.5 400.7,92.8 401.1,92.1 401.4,91.5 401.7,90.8 402.0,90.2 402.4,89.5 402.8,88.7 403.3,87.8 403.7,87.0 404.2,86.1 404.7,85.3 405.2,84.5 405.7,83.8 406.2,83.2 406.7,82.6 407.3,82.0 407.8,81.4 408.4,80.8 409.0,80.1 409.7,79.5 410.3,78.8 411.0,78.2 411.7,77.5 412.5,76.9 413.4,76.2 414.3,75.5 415.3,74.8 416.3,74.1 417.4,73.5 418.4,72.9 419.4,72.4 420.5,71.9 421.6,71.5 422.7,71.2 423.8,70.8 424.9,70.5 425.9,70.2 426.8,70.0 427.8,69.8 428.7,69.6 429.7,69.5 430.7,69.3 431.8,69.1 432.9,68.9 434.0,68.8 435.1,68.6 436.2,68.5 437.3,68.4 438.4,68.3 439.5,68.2 440.6,68.2 441.8,68.2 442.9,68.2 444.0,68.2 445.2,68.3 446.3,68.4 447.5,68.5 448.7,68.7 449.8,68.8 450.9,69.0 451.7,69.1 452.5,69.3 453.3,69.4 454.0,69.6 454.7,69.7 455.5,69.9 456.3,70.1 457.1,70.3 458.0,70.5 458.8,70.7 459.6,71.0 460.4,71.2 461.2,71.4 462.0,71.6 462.7,71.9 463.5,72.1 464.3,72.3 465.0,72.6 465.7,72.9 466.4,73.1 467.0,73.4 467.7,73.6 468.4,73.9 469.1,74.3 470.0,74.8 470.9,75.3 471.8,75.9 472.7,76.5 473.6,77.1 474.5,77.8 475.4,78.5 476.4,79.3 477.3,80.1 478.3,80.9 479.1,81.7 480.0,82.6 480.8,83.5 481.6,84.4 482.3,85.4 483.1,86.3 483.7,87.3 484.4,88.3 485.0,89.2 485.5,90.2 486.1,91.1 486.6,92.1 487.0,93.0 487.5,94.0 487.9,94.9 488.3,95.8 488.7,96.7 489.1,97.7 489.4,98.6 489.8,99.6 490.2,100.8 490.7,102.0 491.1,103.2 491.5,104.4 491.9,105.7 492.3,107.0 492.7,108.4 493.1,109.9 493.4,111.4 493.8,112.9 494.1,114.5 494.4,116.0 494.7,117.6 495.0,119.3 495.2,121.0 495.5,122.6 495.7,124.3 495.9,126.0 496.1,127.7 496.2,129.3 496.3,131.0 496.5,132.7 496.6,134.3 496.7,136.0" fill="none" stroke="#0000ff" stroke-width="1.2" stroke-dasharray="4.5,1.8,1.3,1.8" stroke-dashoffset="0" stroke-linejoin="round"/>
<path d="M389.3,136.0 389.4,134.3 389.6,132.6 389.7,131.0 389.8,129.3 390.0,127.6 390.1,126.0 390.2,124.5 390.3,123.0 390.4,121.5 390.5,120.0 390.6,118.5 390.8,117.0 391.0,115.5 391.2,114.0 391.5,112.5 391.7,111.0 392.0,109.5 392.3,108.0 392.6,106.4 392.9,104.8 393.3,103.2 393.6,101.6 394.0,100.0 394.4,98.5 394.8,97.2 395.3,95.9 395.7,94.6 396.2,93.4 396.7,92.2 397.2,91.0 397.6,90.0 398.1,89.1 398.5,88.2 399.0,87.3 399.5,86.5 400.0,85.6 400.5,84.7 401.0,83.9 401.6,83.0 402.1,82.2 402.7,81.3 403.4,80.5 404.2,79.6 405.2,78.7 406.1,77.8 407.1,76.9 408.2,76.1 409.2,75.3 410.2,74.6 411.2,73.8 412.3,73.1 413.3,72.5 414.4,71.8 415.5,71.2 416.7,70.5 417.8,69.9 419.0,69.3 420.2,68.7 421.5,68.1 422.7,67.6 424.0,67.1 425.3,66.7 426.7,66.2 428.1,65.9 429.4,65.5 430.7,65.2 431.8,65.0 432.9,64.8 434.0,64.6 435.1,64.4 436.2,64.3 437.3,64.2 438.4,64.1 439.5,64.0 440.6,63.9 441.8,63.9 442.9,63.8 444.0,63.8 445.2,63.8 446.3,63.9 447.5,63.9 448.7,64.0 449.8,64.1 450.9,64.2 451.9,64.3 452.8,64.4 453.7,64.6 454.7,64.7 455.6,64.8 456.5,65.0 457.4,65.2 458.3,65.3 459.2,65.5 460.1,65.7 460.9,65.9 461.8,66.1 462.6,66.3 463.4,66.5 464.2,66.8 465.0,67.0 465.7,67.3 466.5,67.5 467.2,67.7 467.9,68.0 468.5,68.2 469.2,68.5 469.8,68.7 470.5,69.0 471.3,69.3 472.1,69.7 472.9,70.0 473.7,70.4 474.4,70.8 475.2,71.2 475.9,71.6 476.6,72.0 477.3,72.4 478.0,72.9 478.7,73.4 479.4,73.9 480.4,74.7 481.5,75.6 482.7,76.5 483.8,77.5 484.9,78.5 485.8,79.5 486.5,80.3 487.2,81.2 487.8,82.0 488.4,82.8 489.0,83.7 489.5,84.5 489.9,85.2 490.3,86.0 490.7,86.7 491.0,87.5 491.4,88.2 491.8,89.0 492.3,89.9 492.8,90.8 493.3,91.7 493.8,92.7 494.3,93.6 494.8,94.5 495.2,95.3 495.6,96.1 496.0,96.9 496.4,97.8 496.8,98.6 497.1,99.5 497.4,100.6 497.6,101.7 497.8,102.8 498.0,104.0 498.2,105.3 498.4,106.5 498.6,108.0 498.9,109.5 499.1,111.1 499.4,112.8 499.6,114.4 499.8,116.0 500.0,117.7 500.2,119.3 500.4,121.0 500.6,122.7 500.8,124.3 500.9,126.0 501.0,127.7 501.1,129.3 501.1,131.0 501.2,132.7 501.2,134.3 501.3,136.0" fill="none" stroke="#0000ff" stroke-width="1.4" stroke-linejoin="round"/>
<path d="M385.2,136.0 385.3,137.0 385.3,138.0 385.4,138.9 385.4,139.9 385.5,140.9 385.5,142.0 385.5,143.4 385.5,144.8 385.6,146.3 385.6,147.8 385.5,149.4 385.5,151.0 385.4,152.9 385.3,155.0 385.2,157.0 385.1,159.1 385.0,161.1 384.9,163.0 384.8,164.5 384.7,165.8 384.7,167.2 384.6,168.5 384.5,169.8 384.4,171.2 384.3,172.7 384.2,174.2 384.0,175.8 383.9,177.3 383.8,178.9 383.6,180.4 383.4,181.8 383.2,183.2 383.1,184.5 382.9,185.9 382.7,187.4 382.5,189.0 382.3,191.5 382.1,194.1 381.9,196.9 381.8,199.9 381.6,202.9 381.4,206.0 381.2,210.0 380.9,214.5 380.7,219.0 380.5,223.5 380.2,227.5 380.0,231.0 379.9,232.7 379.8,234.1 379.6,235.5 379.5,236.8 379.4,238.1 379.3,239.4" fill="none" stroke="#0000ff" stroke-width="1.2" stroke-dasharray="4.5,3" stroke-dashoffset="0" stroke-linejoin="round"/>
<path d="M389.3,136.0 389.3,137.0 389.3,138.0 389.3,138.9 389.2,139.9 389.2,140.9 389.2,142.0 389.2,143.4 389.1,144.9 389.0,146.5 389.0,148.0 388.9,149.5 388.8,151.0 388.7,152.2 388.6,153.3 388.6,154.4 388.5,155.6 388.4,156.7 388.3,158.0 388.2,159.8 388.1,161.8 388.0,163.8 387.9,165.9 387.8,168.0 387.7,170.0 387.6,171.9 387.5,173.7 387.4,175.6 387.3,177.4 387.1,179.2 387.0,181.0 386.9,182.5 386.7,184.0 386.6,185.4 386.4,186.8 386.3,188.3 386.1,190.0 385.9,192.6 385.7,195.5 385.5,198.5 385.3,201.6 385.1,204.8 384.9,208.0 384.6,211.8 384.2,215.9 383.9,220.0 383.5,224.1 383.1,227.8 382.7,231.0 382.5,232.6 382.2,234.1 382.0,235.5 381.7,236.8 381.5,238.0 381.2,239.4" fill="none" stroke="#0000ff" stroke-width="1.3" stroke-linejoin="round"/>
<path d="M392.0,136.0 391.9,137.0 391.9,138.0 391.8,138.9 391.8,139.9 391.7,140.9 391.7,142.0 391.7,143.4 391.6,144.9 391.6,146.4 391.6,147.9 391.5,149.5 391.5,151.0 391.4,152.5 391.4,154.0 391.3,155.5 391.2,157.0 391.1,158.5 391.0,160.0 390.9,161.6 390.8,163.3 390.8,165.0 390.7,166.6 390.6,168.3 390.5,170.0 390.4,171.7 390.3,173.4 390.1,175.0 390.0,176.7 389.8,178.4 389.6,180.0 389.4,181.5 389.1,182.9 388.8,184.4 388.5,185.8 388.2,187.3 388.0,189.0 387.7,191.5 387.5,194.1 387.4,197.0 387.2,199.9 387.0,202.9 386.8,206.0 386.5,210.0 386.1,214.5 385.6,219.0 385.2,223.5 384.8,227.5 384.5,231.0 384.3,232.7 384.2,234.1 384.1,235.5 384.0,236.8 383.8,238.1 383.7,239.4" fill="none" stroke="#0000ff" stroke-width="1.2" stroke-dasharray="4.5,1.8,1.3,1.8" stroke-dashoffset="0" stroke-linejoin="round"/>
<path d="M507.2,136.0 507.2,138.4 507.2,140.8 507.2,143.1 507.2,145.5 507.2,147.8 507.3,150.0 507.4,151.8 507.5,153.5 507.6,155.1 507.8,156.7 507.9,158.4 508.0,160.0 508.1,161.7 508.2,163.3 508.3,165.0 508.4,166.7 508.5,168.3 508.6,170.0 508.7,171.7 508.8,173.3 508.9,174.9 509.0,176.6 509.1,178.3 509.2,180.0 509.3,182.1 509.4,184.2 509.5,186.4 509.6,188.6 509.7,190.7 509.8,192.7 509.9,194.2 510.0,195.5 510.2,196.8 510.3,198.1 510.4,199.5 510.6,201.0 510.8,203.3 511.1,205.9 511.4,208.6 511.7,211.3 511.9,214.0 512.2,216.5 512.4,218.5 512.6,220.5 512.8,222.4 513.1,224.2 513.3,226.1 513.5,228.0 513.7,229.9 514.0,231.8 514.2,233.7 514.5,235.6 514.7,237.5 515.0,239.4" fill="none" stroke="#0000ff" stroke-width="1.2" stroke-dasharray="4.5,3" stroke-dashoffset="0" stroke-linejoin="round"/>
<path d="M501.3,136.0 501.3,138.3 501.4,140.7 501.4,143.0 501.4,145.4 501.5,147.7 501.6,150.0 501.8,152.2 501.9,154.4 502.2,156.6 502.4,158.7 502.6,160.9 502.8,163.0 503.0,165.0 503.1,166.9 503.3,168.9 503.4,170.8 503.6,172.8 503.8,175.0 504.1,178.0 504.4,181.2 504.7,184.6 505.0,187.9 505.3,191.1 505.6,194.0 505.8,196.0 506.1,197.9 506.3,199.7 506.5,201.4 506.8,203.2 507.0,205.0 507.2,206.8 507.5,208.7 507.7,210.5 507.9,212.3 508.2,214.2 508.4,216.0 508.6,217.8 508.8,219.6 509.0,221.5 509.2,223.3 509.4,225.1 509.6,227.0 509.9,229.0 510.1,231.1 510.4,233.2 510.7,235.2 511.0,237.3 511.3,239.4" fill="none" stroke="#0000ff" stroke-width="1.3" stroke-linejoin="round"/>
<path d="M496.7,136.0 496.8,138.3 496.8,140.6 496.9,143.0 497.0,145.3 497.1,147.6 497.2,150.0 497.4,152.5 497.5,155.1 497.8,157.7 498.0,160.2 498.2,162.7 498.4,165.0 498.6,166.8 498.7,168.5 498.9,170.1 499.1,171.7 499.2,173.4 499.4,175.0 499.6,176.7 499.7,178.4 499.9,180.0 500.1,181.7 500.2,183.4 500.4,185.0 500.5,186.5 500.7,188.0 500.8,189.4 501.0,190.9 501.1,192.4 501.3,194.0 501.5,196.0 501.8,198.2 502.0,200.4 502.3,202.7 502.6,204.9 502.9,207.0 503.2,208.9 503.4,210.7 503.7,212.6 504.0,214.4 504.3,216.2 504.6,218.0 504.9,219.8 505.2,221.5 505.5,223.3 505.9,225.0 506.2,226.7 506.5,228.5 506.8,230.3 507.1,232.1 507.5,233.9 507.8,235.8 508.1,237.6 508.4,239.4" fill="none" stroke="#0000ff" stroke-width="1.2" stroke-dasharray="4.5,1.8,1.3,1.8" stroke-dashoffset="0" stroke-linejoin="round"/>
<rect x="62.6" y="26.4" width="213.20000000000002" height="213.2" fill="none" stroke="#000" stroke-width="1.2"/>
<line x1="83.92" y1="239.6" x2="83.92" y2="236.4" stroke="#000" stroke-width="1"/>
<line x1="83.92" y1="26.4" x2="83.92" y2="29.599999999999998" stroke="#000" stroke-width="1"/>
<line x1="105.24" y1="239.6" x2="105.24" y2="233.6" stroke="#000" stroke-width="1"/>
<line x1="105.24" y1="26.4" x2="105.24" y2="32.4" stroke="#000" stroke-width="1"/>
<line x1="126.56" y1="239.6" x2="126.56" y2="236.4" stroke="#000" stroke-width="1"/>
<line x1="126.56" y1="26.4" x2="126.56" y2="29.599999999999998" stroke="#000" stroke-width="1"/>
<line x1="147.88" y1="239.6" x2="147.88" y2="233.6" stroke="#000" stroke-width="1"/>
<line x1="147.88" y1="26.4" x2="147.88" y2="32.4" stroke="#000" stroke-width="1"/>
<line x1="169.20" y1="239.6" x2="169.20" y2="236.4" stroke="#000" stroke-width="1"/>
<line x1="169.20" y1="26.4" x2="169.20" y2="29.599999999999998" stroke="#000" stroke-width="1"/>
<line x1="190.52" y1="239.6" x2="190.52" y2="233.6" stroke="#000" stroke-width="1"/>
<line x1="190.52" y1="26.4" x2="190.52" y2="32.4" stroke="#000" stroke-width="1"/>
<line x1="211.84" y1="239.6" x2="211.84" y2="236.4" stroke="#000" stroke-width="1"/>
<line x1="211.84" y1="26.4" x2="211.84" y2="29.599999999999998" stroke="#000" stroke-width="1"/>
<line x1="233.16" y1="239.6" x2="233.16" y2="233.6" stroke="#000" stroke-width="1"/>
<line x1="233.16" y1="26.4" x2="233.16" y2="32.4" stroke="#000" stroke-width="1"/>
<line x1="254.48" y1="239.6" x2="254.48" y2="236.4" stroke="#000" stroke-width="1"/>
<line x1="254.48" y1="26.4" x2="254.48" y2="29.599999999999998" stroke="#000" stroke-width="1"/>
<line x1="62.6" y1="223.56" x2="65.9" y2="223.56" stroke="#000" stroke-width="1"/>
<line x1="275.8" y1="223.56" x2="272.5" y2="223.56" stroke="#000" stroke-width="1"/>
<line x1="62.6" y1="214.17" x2="65.9" y2="214.17" stroke="#000" stroke-width="1"/>
<line x1="275.8" y1="214.17" x2="272.5" y2="214.17" stroke="#000" stroke-width="1"/>
<line x1="62.6" y1="207.51" x2="65.9" y2="207.51" stroke="#000" stroke-width="1"/>
<line x1="275.8" y1="207.51" x2="272.5" y2="207.51" stroke="#000" stroke-width="1"/>
<line x1="62.6" y1="202.34" x2="65.9" y2="202.34" stroke="#000" stroke-width="1"/>
<line x1="275.8" y1="202.34" x2="272.5" y2="202.34" stroke="#000" stroke-width="1"/>
<line x1="62.6" y1="198.12" x2="65.9" y2="198.12" stroke="#000" stroke-width="1"/>
<line x1="275.8" y1="198.12" x2="272.5" y2="198.12" stroke="#000" stroke-width="1"/>
<line x1="62.6" y1="194.56" x2="65.9" y2="194.56" stroke="#000" stroke-width="1"/>
<line x1="275.8" y1="194.56" x2="272.5" y2="194.56" stroke="#000" stroke-width="1"/>
<line x1="62.6" y1="191.47" x2="65.9" y2="191.47" stroke="#000" stroke-width="1"/>
<line x1="275.8" y1="191.47" x2="272.5" y2="191.47" stroke="#000" stroke-width="1"/>
<line x1="62.6" y1="188.74" x2="65.9" y2="188.74" stroke="#000" stroke-width="1"/>
<line x1="275.8" y1="188.74" x2="272.5" y2="188.74" stroke="#000" stroke-width="1"/>
<line x1="62.6" y1="186.30" x2="68.9" y2="186.30" stroke="#000" stroke-width="1"/>
<line x1="275.8" y1="186.30" x2="269.5" y2="186.30" stroke="#000" stroke-width="1"/>
<line x1="62.6" y1="170.26" x2="65.9" y2="170.26" stroke="#000" stroke-width="1"/>
<line x1="275.8" y1="170.26" x2="272.5" y2="170.26" stroke="#000" stroke-width="1"/>
<line x1="62.6" y1="160.87" x2="65.9" y2="160.87" stroke="#000" stroke-width="1"/>
<line x1="275.8" y1="160.87" x2="272.5" y2="160.87" stroke="#000" stroke-width="1"/>
<line x1="62.6" y1="154.21" x2="65.9" y2="154.21" stroke="#000" stroke-width="1"/>
<line x1="275.8" y1="154.21" x2="272.5" y2="154.21" stroke="#000" stroke-width="1"/>
<line x1="62.6" y1="149.04" x2="65.9" y2="149.04" stroke="#000" stroke-width="1"/>
<line x1="275.8" y1="149.04" x2="272.5" y2="149.04" stroke="#000" stroke-width="1"/>
<line x1="62.6" y1="144.82" x2="65.9" y2="144.82" stroke="#000" stroke-width="1"/>
<line x1="275.8" y1="144.82" x2="272.5" y2="144.82" stroke="#000" stroke-width="1"/>
<line x1="62.6" y1="141.26" x2="65.9" y2="141.26" stroke="#000" stroke-width="1"/>
<line x1="275.8" y1="141.26" x2="272.5" y2="141.26" stroke="#000" stroke-width="1"/>
<line x1="62.6" y1="138.17" x2="65.9" y2="138.17" stroke="#000" stroke-width="1"/>
<line x1="275.8" y1="138.17" x2="272.5" y2="138.17" stroke="#000" stroke-width="1"/>
<line x1="62.6" y1="135.44" x2="65.9" y2="135.44" stroke="#000" stroke-width="1"/>
<line x1="275.8" y1="135.44" x2="272.5" y2="135.44" stroke="#000" stroke-width="1"/>
<line x1="62.6" y1="133.00" x2="68.9" y2="133.00" stroke="#000" stroke-width="1"/>
<line x1="275.8" y1="133.00" x2="269.5" y2="133.00" stroke="#000" stroke-width="1"/>
<line x1="62.6" y1="116.96" x2="65.9" y2="116.96" stroke="#000" stroke-width="1"/>
<line x1="275.8" y1="116.96" x2="272.5" y2="116.96" stroke="#000" stroke-width="1"/>
<line x1="62.6" y1="107.57" x2="65.9" y2="107.57" stroke="#000" stroke-width="1"/>
<line x1="275.8" y1="107.57" x2="272.5" y2="107.57" stroke="#000" stroke-width="1"/>
<line x1="62.6" y1="100.91" x2="65.9" y2="100.91" stroke="#000" stroke-width="1"/>
<line x1="275.8" y1="100.91" x2="272.5" y2="100.91" stroke="#000" stroke-width="1"/>
<line x1="62.6" y1="95.74" x2="65.9" y2="95.74" stroke="#000" stroke-width="1"/>
<line x1="275.8" y1="95.74" x2="272.5" y2="95.74" stroke="#000" stroke-width="1"/>
<line x1="62.6" y1="91.52" x2="65.9" y2="91.52" stroke="#000" stroke-width="1"/>
<line x1="275.8" y1="91.52" x2="272.5" y2="91.52" stroke="#000" stroke-width="1"/>
<line x1="62.6" y1="87.96" x2="65.9" y2="87.96" stroke="#000" stroke-width="1"/>
<line x1="275.8" y1="87.96" x2="272.5" y2="87.96" stroke="#000" stroke-width="1"/>
<line x1="62.6" y1="84.87" x2="65.9" y2="84.87" stroke="#000" stroke-width="1"/>
<line x1="275.8" y1="84.87" x2="272.5" y2="84.87" stroke="#000" stroke-width="1"/>
<line x1="62.6" y1="82.14" x2="65.9" y2="82.14" stroke="#000" stroke-width="1"/>
<line x1="275.8" y1="82.14" x2="272.5" y2="82.14" stroke="#000" stroke-width="1"/>
<line x1="62.6" y1="79.70" x2="68.9" y2="79.70" stroke="#000" stroke-width="1"/>
<line x1="275.8" y1="79.70" x2="269.5" y2="79.70" stroke="#000" stroke-width="1"/>
<line x1="62.6" y1="63.66" x2="65.9" y2="63.66" stroke="#000" stroke-width="1"/>
<line x1="275.8" y1="63.66" x2="272.5" y2="63.66" stroke="#000" stroke-width="1"/>
<line x1="62.6" y1="54.27" x2="65.9" y2="54.27" stroke="#000" stroke-width="1"/>
<line x1="275.8" y1="54.27" x2="272.5" y2="54.27" stroke="#000" stroke-width="1"/>
<line x1="62.6" y1="47.61" x2="65.9" y2="47.61" stroke="#000" stroke-width="1"/>
<line x1="275.8" y1="47.61" x2="272.5" y2="47.61" stroke="#000" stroke-width="1"/>
<line x1="62.6" y1="42.44" x2="65.9" y2="42.44" stroke="#000" stroke-width="1"/>
<line x1="275.8" y1="42.44" x2="272.5" y2="42.44" stroke="#000" stroke-width="1"/>
<line x1="62.6" y1="38.22" x2="65.9" y2="38.22" stroke="#000" stroke-width="1"/>
<line x1="275.8" y1="38.22" x2="272.5" y2="38.22" stroke="#000" stroke-width="1"/>
<line x1="62.6" y1="34.66" x2="65.9" y2="34.66" stroke="#000" stroke-width="1"/>
<line x1="275.8" y1="34.66" x2="272.5" y2="34.66" stroke="#000" stroke-width="1"/>
<line x1="62.6" y1="31.57" x2="65.9" y2="31.57" stroke="#000" stroke-width="1"/>
<line x1="275.8" y1="31.57" x2="272.5" y2="31.57" stroke="#000" stroke-width="1"/>
<line x1="62.6" y1="28.84" x2="65.9" y2="28.84" stroke="#000" stroke-width="1"/>
<line x1="275.8" y1="28.84" x2="272.5" y2="28.84" stroke="#000" stroke-width="1"/>
<rect x="329.0" y="26.6" width="213.0" height="212.8" fill="none" stroke="#000" stroke-width="1.2"/>
<line x1="350.30" y1="239.4" x2="350.30" y2="236.20000000000002" stroke="#000" stroke-width="1"/>
<line x1="350.30" y1="26.6" x2="350.30" y2="29.8" stroke="#000" stroke-width="1"/>
<line x1="371.60" y1="239.4" x2="371.60" y2="233.4" stroke="#000" stroke-width="1"/>
<line x1="371.60" y1="26.6" x2="371.60" y2="32.6" stroke="#000" stroke-width="1"/>
<line x1="392.90" y1="239.4" x2="392.90" y2="236.20000000000002" stroke="#000" stroke-width="1"/>
<line x1="392.90" y1="26.6" x2="392.90" y2="29.8" stroke="#000" stroke-width="1"/>
<line x1="414.20" y1="239.4" x2="414.20" y2="233.4" stroke="#000" stroke-width="1"/>
<line x1="414.20" y1="26.6" x2="414.20" y2="32.6" stroke="#000" stroke-width="1"/>
<line x1="435.50" y1="239.4" x2="435.50" y2="236.20000000000002" stroke="#000" stroke-width="1"/>
<line x1="435.50" y1="26.6" x2="435.50" y2="29.8" stroke="#000" stroke-width="1"/>
<line x1="456.80" y1="239.4" x2="456.80" y2="233.4" stroke="#000" stroke-width="1"/>
<line x1="456.80" y1="26.6" x2="456.80" y2="32.6" stroke="#000" stroke-width="1"/>
<line x1="478.10" y1="239.4" x2="478.10" y2="236.20000000000002" stroke="#000" stroke-width="1"/>
<line x1="478.10" y1="26.6" x2="478.10" y2="29.8" stroke="#000" stroke-width="1"/>
<line x1="499.40" y1="239.4" x2="499.40" y2="233.4" stroke="#000" stroke-width="1"/>
<line x1="499.40" y1="26.6" x2="499.40" y2="32.6" stroke="#000" stroke-width="1"/>
<line x1="520.70" y1="239.4" x2="520.70" y2="236.20000000000002" stroke="#000" stroke-width="1"/>
<line x1="520.70" y1="26.6" x2="520.70" y2="29.8" stroke="#000" stroke-width="1"/>
<line x1="329.0" y1="223.39" x2="332.3" y2="223.39" stroke="#000" stroke-width="1"/>
<line x1="542.0" y1="223.39" x2="538.7" y2="223.39" stroke="#000" stroke-width="1"/>
<line x1="329.0" y1="214.02" x2="332.3" y2="214.02" stroke="#000" stroke-width="1"/>
<line x1="542.0" y1="214.02" x2="538.7" y2="214.02" stroke="#000" stroke-width="1"/>
<line x1="329.0" y1="207.37" x2="332.3" y2="207.37" stroke="#000" stroke-width="1"/>
<line x1="542.0" y1="207.37" x2="538.7" y2="207.37" stroke="#000" stroke-width="1"/>
<line x1="329.0" y1="202.21" x2="332.3" y2="202.21" stroke="#000" stroke-width="1"/>
<line x1="542.0" y1="202.21" x2="538.7" y2="202.21" stroke="#000" stroke-width="1"/>
<line x1="329.0" y1="198.00" x2="332.3" y2="198.00" stroke="#000" stroke-width="1"/>
<line x1="542.0" y1="198.00" x2="538.7" y2="198.00" stroke="#000" stroke-width="1"/>
<line x1="329.0" y1="194.44" x2="332.3" y2="194.44" stroke="#000" stroke-width="1"/>
<line x1="542.0" y1="194.44" x2="538.7" y2="194.44" stroke="#000" stroke-width="1"/>
<line x1="329.0" y1="191.36" x2="332.3" y2="191.36" stroke="#000" stroke-width="1"/>
<line x1="542.0" y1="191.36" x2="538.7" y2="191.36" stroke="#000" stroke-width="1"/>
<line x1="329.0" y1="188.63" x2="332.3" y2="188.63" stroke="#000" stroke-width="1"/>
<line x1="542.0" y1="188.63" x2="538.7" y2="188.63" stroke="#000" stroke-width="1"/>
<line x1="329.0" y1="186.20" x2="335.3" y2="186.20" stroke="#000" stroke-width="1"/>
<line x1="542.0" y1="186.20" x2="535.7" y2="186.20" stroke="#000" stroke-width="1"/>
<line x1="329.0" y1="170.19" x2="332.3" y2="170.19" stroke="#000" stroke-width="1"/>
<line x1="542.0" y1="170.19" x2="538.7" y2="170.19" stroke="#000" stroke-width="1"/>
<line x1="329.0" y1="160.82" x2="332.3" y2="160.82" stroke="#000" stroke-width="1"/>
<line x1="542.0" y1="160.82" x2="538.7" y2="160.82" stroke="#000" stroke-width="1"/>
<line x1="329.0" y1="154.17" x2="332.3" y2="154.17" stroke="#000" stroke-width="1"/>
<line x1="542.0" y1="154.17" x2="538.7" y2="154.17" stroke="#000" stroke-width="1"/>
<line x1="329.0" y1="149.01" x2="332.3" y2="149.01" stroke="#000" stroke-width="1"/>
<line x1="542.0" y1="149.01" x2="538.7" y2="149.01" stroke="#000" stroke-width="1"/>
<line x1="329.0" y1="144.80" x2="332.3" y2="144.80" stroke="#000" stroke-width="1"/>
<line x1="542.0" y1="144.80" x2="538.7" y2="144.80" stroke="#000" stroke-width="1"/>
<line x1="329.0" y1="141.24" x2="332.3" y2="141.24" stroke="#000" stroke-width="1"/>
<line x1="542.0" y1="141.24" x2="538.7" y2="141.24" stroke="#000" stroke-width="1"/>
<line x1="329.0" y1="138.16" x2="332.3" y2="138.16" stroke="#000" stroke-width="1"/>
<line x1="542.0" y1="138.16" x2="538.7" y2="138.16" stroke="#000" stroke-width="1"/>
<line x1="329.0" y1="135.43" x2="332.3" y2="135.43" stroke="#000" stroke-width="1"/>
<line x1="542.0" y1="135.43" x2="538.7" y2="135.43" stroke="#000" stroke-width="1"/>
<line x1="329.0" y1="133.00" x2="335.3" y2="133.00" stroke="#000" stroke-width="1"/>
<line x1="542.0" y1="133.00" x2="535.7" y2="133.00" stroke="#000" stroke-width="1"/>
<line x1="329.0" y1="116.99" x2="332.3" y2="116.99" stroke="#000" stroke-width="1"/>
<line x1="542.0" y1="116.99" x2="538.7" y2="116.99" stroke="#000" stroke-width="1"/>
<line x1="329.0" y1="107.62" x2="332.3" y2="107.62" stroke="#000" stroke-width="1"/>
<line x1="542.0" y1="107.62" x2="538.7" y2="107.62" stroke="#000" stroke-width="1"/>
<line x1="329.0" y1="100.97" x2="332.3" y2="100.97" stroke="#000" stroke-width="1"/>
<line x1="542.0" y1="100.97" x2="538.7" y2="100.97" stroke="#000" stroke-width="1"/>
<line x1="329.0" y1="95.81" x2="332.3" y2="95.81" stroke="#000" stroke-width="1"/>
<line x1="542.0" y1="95.81" x2="538.7" y2="95.81" stroke="#000" stroke-width="1"/>
<line x1="329.0" y1="91.60" x2="332.3" y2="91.60" stroke="#000" stroke-width="1"/>
<line x1="542.0" y1="91.60" x2="538.7" y2="91.60" stroke="#000" stroke-width="1"/>
<line x1="329.0" y1="88.04" x2="332.3" y2="88.04" stroke="#000" stroke-width="1"/>
<line x1="542.0" y1="88.04" x2="538.7" y2="88.04" stroke="#000" stroke-width="1"/>
<line x1="329.0" y1="84.96" x2="332.3" y2="84.96" stroke="#000" stroke-width="1"/>
<line x1="542.0" y1="84.96" x2="538.7" y2="84.96" stroke="#000" stroke-width="1"/>
<line x1="329.0" y1="82.23" x2="332.3" y2="82.23" stroke="#000" stroke-width="1"/>
<line x1="542.0" y1="82.23" x2="538.7" y2="82.23" stroke="#000" stroke-width="1"/>
<line x1="329.0" y1="79.80" x2="335.3" y2="79.80" stroke="#000" stroke-width="1"/>
<line x1="542.0" y1="79.80" x2="535.7" y2="79.80" stroke="#000" stroke-width="1"/>
<line x1="329.0" y1="63.79" x2="332.3" y2="63.79" stroke="#000" stroke-width="1"/>
<line x1="542.0" y1="63.79" x2="538.7" y2="63.79" stroke="#000" stroke-width="1"/>
<line x1="329.0" y1="54.42" x2="332.3" y2="54.42" stroke="#000" stroke-width="1"/>
<line x1="542.0" y1="54.42" x2="538.7" y2="54.42" stroke="#000" stroke-width="1"/>
<line x1="329.0" y1="47.77" x2="332.3" y2="47.77" stroke="#000" stroke-width="1"/>
<line x1="542.0" y1="47.77" x2="538.7" y2="47.77" stroke="#000" stroke-width="1"/>
<line x1="329.0" y1="42.61" x2="332.3" y2="42.61" stroke="#000" stroke-width="1"/>
<line x1="542.0" y1="42.61" x2="538.7" y2="42.61" stroke="#000" stroke-width="1"/>
<line x1="329.0" y1="38.40" x2="332.3" y2="38.40" stroke="#000" stroke-width="1"/>
<line x1="542.0" y1="38.40" x2="538.7" y2="38.40" stroke="#000" stroke-width="1"/>
<line x1="329.0" y1="34.84" x2="332.3" y2="34.84" stroke="#000" stroke-width="1"/>
<line x1="542.0" y1="34.84" x2="538.7" y2="34.84" stroke="#000" stroke-width="1"/>
<line x1="329.0" y1="31.76" x2="332.3" y2="31.76" stroke="#000" stroke-width="1"/>
<line x1="542.0" y1="31.76" x2="538.7" y2="31.76" stroke="#000" stroke-width="1"/>
<line x1="329.0" y1="29.03" x2="332.3" y2="29.03" stroke="#000" stroke-width="1"/>
<line x1="542.0" y1="29.03" x2="538.7" y2="29.03" stroke="#000" stroke-width="1"/>
<text x="56.40" y="29.70" text-anchor="end" class="tl">10</text>
<text x="56.40" y="83.00" text-anchor="end" class="tl">1</text>
<text x="56.40" y="136.30" text-anchor="end" class="tl">0.1</text>
<text x="56.40" y="189.60" text-anchor="end" class="tl">0.01</text>
<text x="56.40" y="242.90" text-anchor="end" class="tl">1E-3</text>
<text x="62.60" y="256.2" text-anchor="middle" class="tl">0.0</text>
<text x="105.24" y="256.2" text-anchor="middle" class="tl">0.5</text>
<text x="147.88" y="256.2" text-anchor="middle" class="tl">1.0</text>
<text x="190.52" y="256.2" text-anchor="middle" class="tl">1.5</text>
<text x="233.16" y="256.2" text-anchor="middle" class="tl">2.0</text>
<text x="275.80" y="256.2" text-anchor="middle" class="tl">2.5</text>
<text x="322.80" y="29.90" text-anchor="end" class="tl">10</text>
<text x="322.80" y="83.10" text-anchor="end" class="tl">1</text>
<text x="322.80" y="136.30" text-anchor="end" class="tl">0.1</text>
<text x="322.80" y="189.50" text-anchor="end" class="tl">0.01</text>
<text x="322.80" y="242.70" text-anchor="end" class="tl">1E-3</text>
<text x="329.00" y="256.2" text-anchor="middle" class="tl">0.0</text>
<text x="371.60" y="256.2" text-anchor="middle" class="tl">0.5</text>
<text x="414.20" y="256.2" text-anchor="middle" class="tl">1.0</text>
<text x="456.80" y="256.2" text-anchor="middle" class="tl">1.5</text>
<text x="499.40" y="256.2" text-anchor="middle" class="tl">2.0</text>
<text x="542.00" y="256.2" text-anchor="middle" class="tl">2.5</text>
<line x1="93.5" y1="8.4" x2="122" y2="8.4" stroke="#000" stroke-width="1.4"/>
<text x="124.80" y="12.60" class="lg">e</text><text x="131.80" y="6.00" class="sup">-</text>
<line x1="142.2" y1="8.200000000000001" x2="170.8" y2="8.200000000000001" stroke="#ff0000" stroke-width="1.4"/>
<text x="173.30" y="12.60" class="lg">O</text><text x="183.20" y="17.30" class="sub">2</text><text x="183.40" y="7.00" class="sub">+</text>
<line x1="199.9" y1="8.4" x2="228.8" y2="8.4" stroke="#0000ff" stroke-width="1.4"/>
<text x="231.30" y="12.60" class="lg">O</text><text x="241.00" y="5.60" class="sup">-</text>
<line x1="362.3" y1="9.6" x2="390.8" y2="9.6" stroke="#000" stroke-width="1.4"/>
<text x="393.60" y="13.80" class="lg">e</text><text x="400.60" y="7.20" class="sup">-</text>
<line x1="411.0" y1="9.4" x2="439.6" y2="9.4" stroke="#ff0000" stroke-width="1.4"/>
<text x="442.10" y="13.80" class="lg">O</text><text x="452.00" y="18.50" class="sub">2</text><text x="452.20" y="8.20" class="sub">+</text>
<line x1="468.70000000000005" y1="9.6" x2="497.6" y2="9.6" stroke="#0000ff" stroke-width="1.4"/>
<text x="500.10" y="13.80" class="lg">O</text><text x="509.80" y="6.80" class="sup">-</text>
<text x="92.6" y="47.3" class="an"><tspan font-style="italic">M</tspan>=0.5</text>
<text x="228.4" y="55.2" class="an"><tspan font-style="italic">M</tspan>=1</text>
<text x="170.2" y="98.8" class="an"><tspan font-style="italic">M</tspan>=1.5</text>
<line x1="129.1" y1="47.6" x2="142.97" y2="61.08" stroke="#000" stroke-width="0.9"/>
<polygon points="146.7,64.7 140.65,62.03 143.86,58.73" fill="#000"/>
<line x1="224.6" y1="54.6" x2="205.21" y2="64.70" stroke="#000" stroke-width="0.9"/>
<polygon points="200.6,67.1 205.04,62.20 207.16,66.28" fill="#000"/>
<line x1="184.4" y1="87.3" x2="172.69" y2="75.66" stroke="#000" stroke-width="0.9"/>
<polygon points="169.0,72.0 175.02,74.74 171.78,78.00" fill="#000"/>
<text x="74.8" y="111.0" class="pl">(a)</text>
<text x="366.0" y="51.2" class="an"><tspan font-style="italic">D</tspan> =0.5</text>
<text x="494.3" y="57.1" class="an"><tspan font-style="italic">D</tspan> =1</text>
<text x="441.9" y="96.5" class="an"><tspan font-style="italic">D</tspan> =1.5</text>
<line x1="405.5" y1="50.0" x2="412.18" y2="55.50" stroke="#000" stroke-width="0.9"/>
<polygon points="416.2,58.8 409.95,56.64 412.87,53.09" fill="#000"/>
<line x1="488.3" y1="58.0" x2="478.55" y2="65.37" stroke="#000" stroke-width="0.9"/>
<polygon points="474.4,68.5 477.96,62.93 480.73,66.60" fill="#000"/>
<line x1="438.2" y1="88.9" x2="428.08" y2="78.78" stroke="#000" stroke-width="0.9"/>
<polygon points="424.4,75.1 430.41,77.86 427.16,81.11" fill="#000"/>
<text x="345.6" y="107.8" class="pl">(b)</text>
<text x="144.00" y="281.0" class="ax" font-style="italic">x</text><text x="158.60" y="281.0" class="ax">[</text><text x="166.60" y="281.0" class="ax">cm</text><text x="191.50" y="281.0" class="ax">]</text>
<text x="410.60" y="281.0" class="ax" font-style="italic">x</text><text x="425.20" y="281.0" class="ax">[</text><text x="433.20" y="281.0" class="ax">cm</text><text x="458.10" y="281.0" class="ax">]</text>
<text transform="translate(16.6,174.3) rotate(-90)" class="ax" font-style="italic">n</text><text transform="translate(16.6,157.0) rotate(-90)" class="ax">[</text><text transform="translate(16.6,149.4) rotate(-90)" class="ax">10</text><text transform="translate(7.9,131.2) rotate(-90)" class="sub2">10</text><text transform="translate(16.6,115.7) rotate(-90)" class="ax">cm</text><text transform="translate(7.9,95.2) rotate(-90)" class="sub2">-3</text><text transform="translate(16.6,81.2) rotate(-90)" class="ax">]</text>
</svg>
</body></html>
